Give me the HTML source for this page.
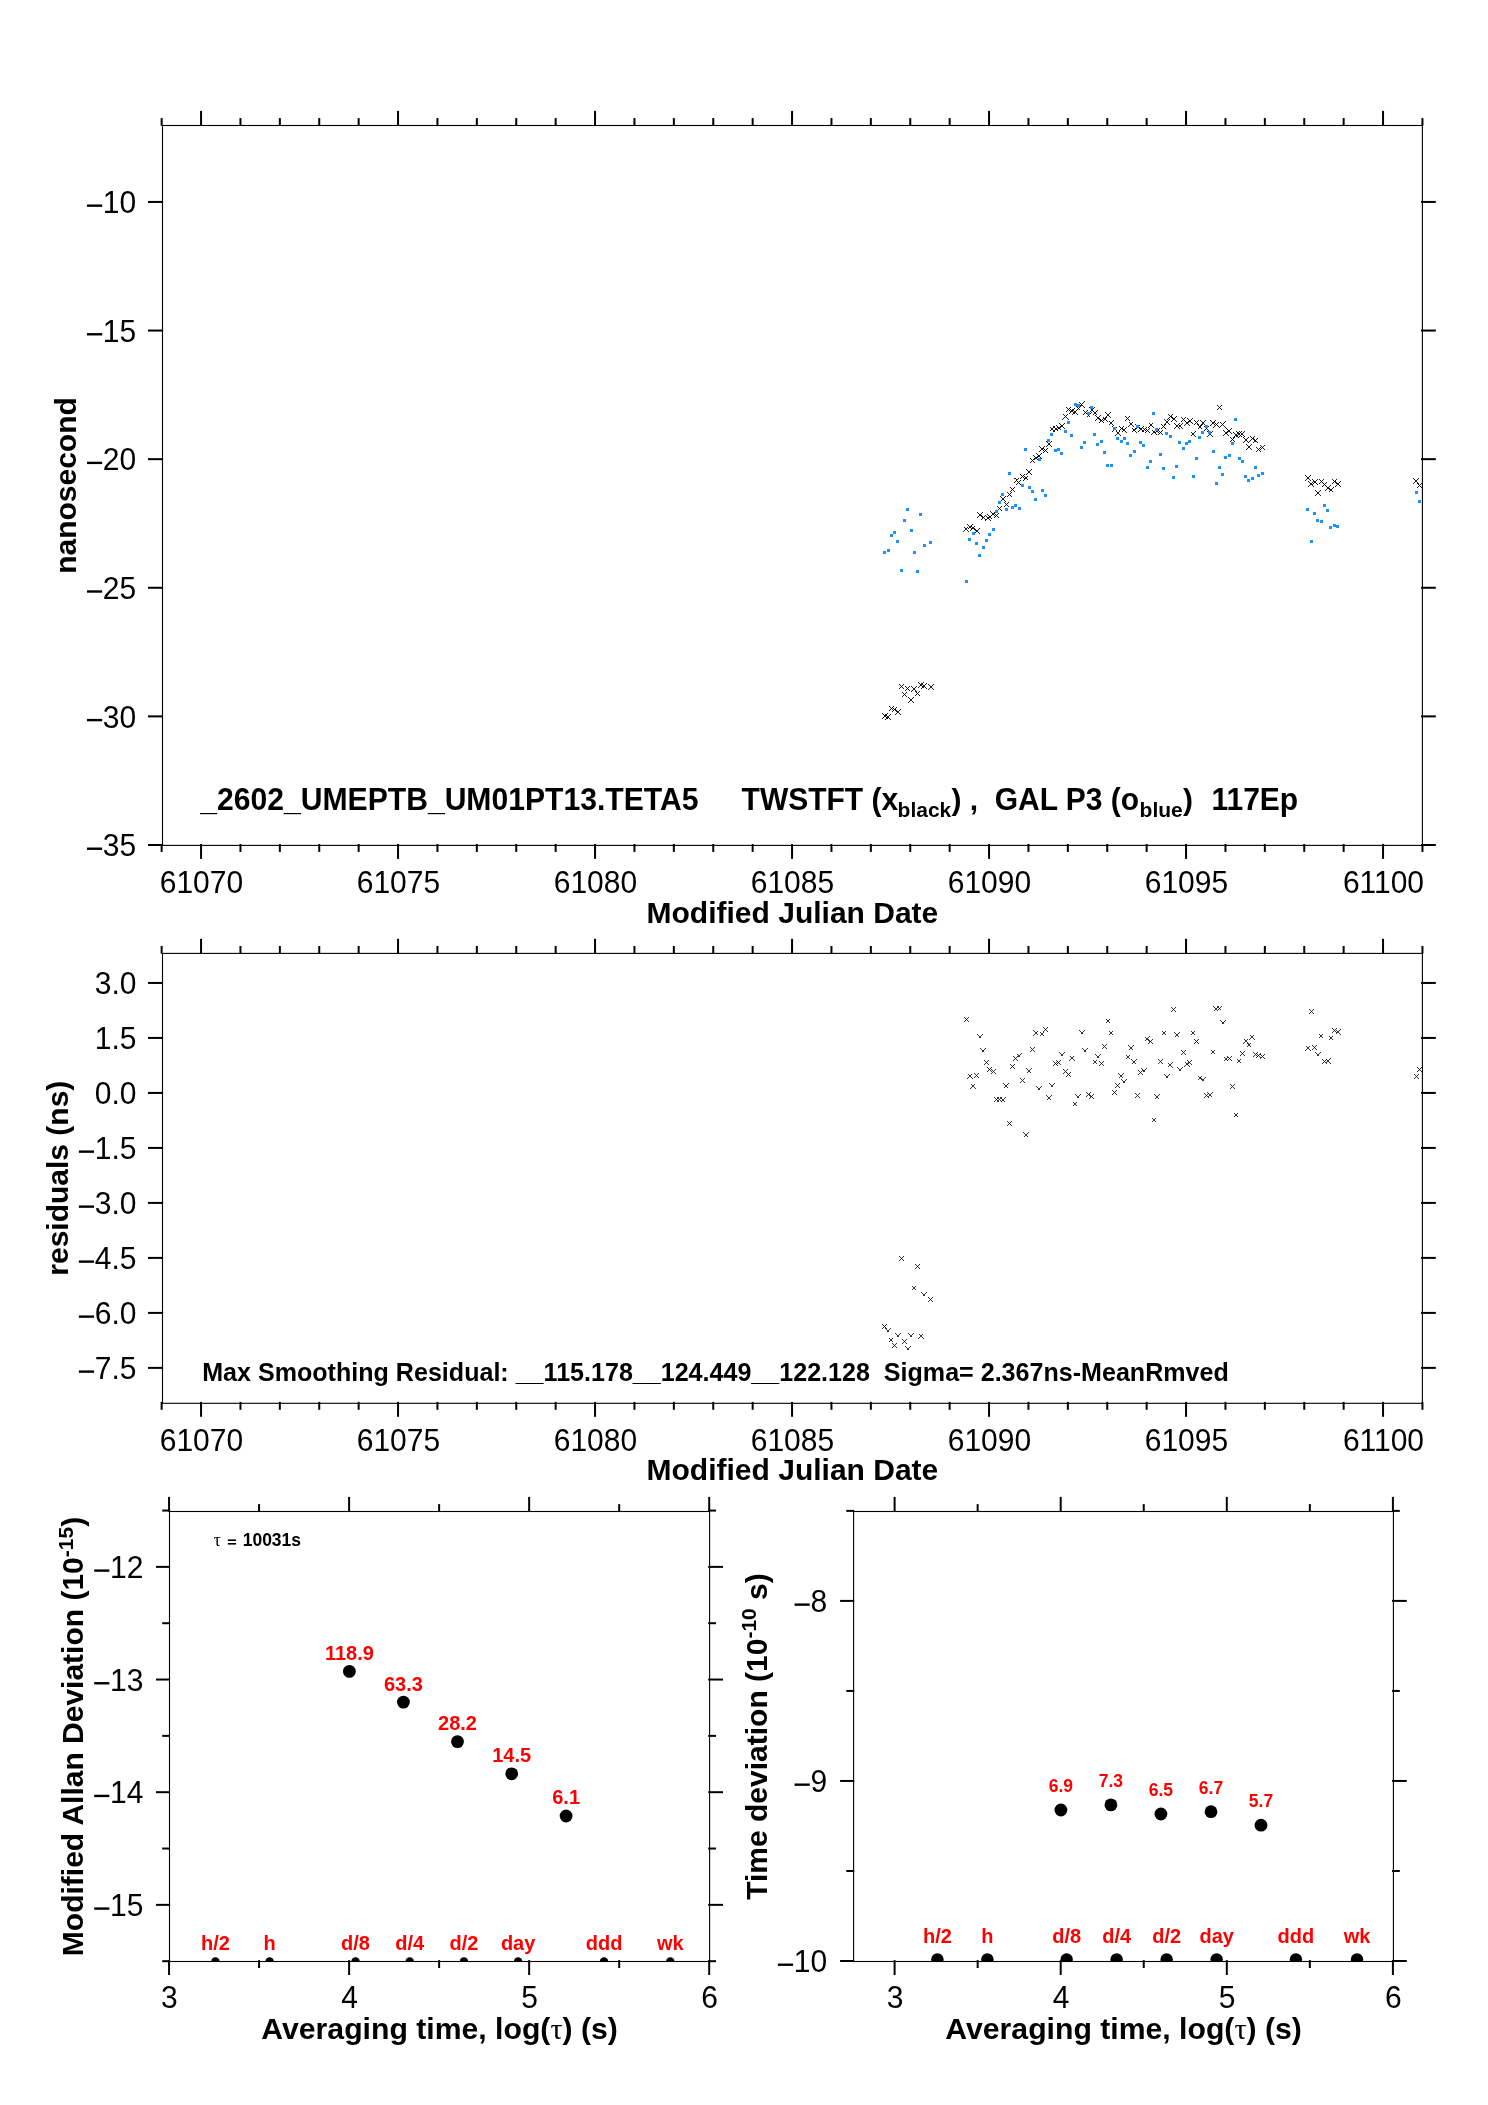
<!DOCTYPE html>
<html><head><meta charset="utf-8"><title>chart</title>
<style>html,body{margin:0;padding:0;background:#fff}svg{display:block;will-change:transform}text{font-family:"Liberation Sans",sans-serif}</style>
</head><body>
<svg width="1488" height="2105" viewBox="0 0 1488 2105" font-family="'Liberation Sans', sans-serif">
<rect width="1488" height="2105" fill="#fff"/>
<rect x="162.50" y="125.50" width="1259.90" height="719.90" fill="none" stroke="#000" stroke-width="1.1"/>
<line x1="201.05" y1="125.80" x2="201.05" y2="110.90" stroke="#000" stroke-width="2.0" stroke-linecap="butt"/>
<line x1="201.05" y1="844.00" x2="201.05" y2="858.90" stroke="#000" stroke-width="2.0" stroke-linecap="butt"/>
<line x1="398.05" y1="125.80" x2="398.05" y2="110.90" stroke="#000" stroke-width="2.0" stroke-linecap="butt"/>
<line x1="398.05" y1="844.00" x2="398.05" y2="858.90" stroke="#000" stroke-width="2.0" stroke-linecap="butt"/>
<line x1="595.05" y1="125.80" x2="595.05" y2="110.90" stroke="#000" stroke-width="2.0" stroke-linecap="butt"/>
<line x1="595.05" y1="844.00" x2="595.05" y2="858.90" stroke="#000" stroke-width="2.0" stroke-linecap="butt"/>
<line x1="792.05" y1="125.80" x2="792.05" y2="110.90" stroke="#000" stroke-width="2.0" stroke-linecap="butt"/>
<line x1="792.05" y1="844.00" x2="792.05" y2="858.90" stroke="#000" stroke-width="2.0" stroke-linecap="butt"/>
<line x1="989.05" y1="125.80" x2="989.05" y2="110.90" stroke="#000" stroke-width="2.0" stroke-linecap="butt"/>
<line x1="989.05" y1="844.00" x2="989.05" y2="858.90" stroke="#000" stroke-width="2.0" stroke-linecap="butt"/>
<line x1="1186.05" y1="125.80" x2="1186.05" y2="110.90" stroke="#000" stroke-width="2.0" stroke-linecap="butt"/>
<line x1="1186.05" y1="844.00" x2="1186.05" y2="858.90" stroke="#000" stroke-width="2.0" stroke-linecap="butt"/>
<line x1="1383.05" y1="125.80" x2="1383.05" y2="110.90" stroke="#000" stroke-width="2.0" stroke-linecap="butt"/>
<line x1="1383.05" y1="844.00" x2="1383.05" y2="858.90" stroke="#000" stroke-width="2.0" stroke-linecap="butt"/>
<line x1="161.65" y1="125.80" x2="161.65" y2="118.10" stroke="#000" stroke-width="2.0" stroke-linecap="butt"/>
<line x1="161.65" y1="844.00" x2="161.65" y2="851.90" stroke="#000" stroke-width="2.0" stroke-linecap="butt"/>
<line x1="240.45" y1="125.80" x2="240.45" y2="118.10" stroke="#000" stroke-width="2.0" stroke-linecap="butt"/>
<line x1="240.45" y1="844.00" x2="240.45" y2="851.90" stroke="#000" stroke-width="2.0" stroke-linecap="butt"/>
<line x1="279.85" y1="125.80" x2="279.85" y2="118.10" stroke="#000" stroke-width="2.0" stroke-linecap="butt"/>
<line x1="279.85" y1="844.00" x2="279.85" y2="851.90" stroke="#000" stroke-width="2.0" stroke-linecap="butt"/>
<line x1="319.25" y1="125.80" x2="319.25" y2="118.10" stroke="#000" stroke-width="2.0" stroke-linecap="butt"/>
<line x1="319.25" y1="844.00" x2="319.25" y2="851.90" stroke="#000" stroke-width="2.0" stroke-linecap="butt"/>
<line x1="358.65" y1="125.80" x2="358.65" y2="118.10" stroke="#000" stroke-width="2.0" stroke-linecap="butt"/>
<line x1="358.65" y1="844.00" x2="358.65" y2="851.90" stroke="#000" stroke-width="2.0" stroke-linecap="butt"/>
<line x1="437.45" y1="125.80" x2="437.45" y2="118.10" stroke="#000" stroke-width="2.0" stroke-linecap="butt"/>
<line x1="437.45" y1="844.00" x2="437.45" y2="851.90" stroke="#000" stroke-width="2.0" stroke-linecap="butt"/>
<line x1="476.85" y1="125.80" x2="476.85" y2="118.10" stroke="#000" stroke-width="2.0" stroke-linecap="butt"/>
<line x1="476.85" y1="844.00" x2="476.85" y2="851.90" stroke="#000" stroke-width="2.0" stroke-linecap="butt"/>
<line x1="516.25" y1="125.80" x2="516.25" y2="118.10" stroke="#000" stroke-width="2.0" stroke-linecap="butt"/>
<line x1="516.25" y1="844.00" x2="516.25" y2="851.90" stroke="#000" stroke-width="2.0" stroke-linecap="butt"/>
<line x1="555.65" y1="125.80" x2="555.65" y2="118.10" stroke="#000" stroke-width="2.0" stroke-linecap="butt"/>
<line x1="555.65" y1="844.00" x2="555.65" y2="851.90" stroke="#000" stroke-width="2.0" stroke-linecap="butt"/>
<line x1="634.45" y1="125.80" x2="634.45" y2="118.10" stroke="#000" stroke-width="2.0" stroke-linecap="butt"/>
<line x1="634.45" y1="844.00" x2="634.45" y2="851.90" stroke="#000" stroke-width="2.0" stroke-linecap="butt"/>
<line x1="673.85" y1="125.80" x2="673.85" y2="118.10" stroke="#000" stroke-width="2.0" stroke-linecap="butt"/>
<line x1="673.85" y1="844.00" x2="673.85" y2="851.90" stroke="#000" stroke-width="2.0" stroke-linecap="butt"/>
<line x1="713.25" y1="125.80" x2="713.25" y2="118.10" stroke="#000" stroke-width="2.0" stroke-linecap="butt"/>
<line x1="713.25" y1="844.00" x2="713.25" y2="851.90" stroke="#000" stroke-width="2.0" stroke-linecap="butt"/>
<line x1="752.65" y1="125.80" x2="752.65" y2="118.10" stroke="#000" stroke-width="2.0" stroke-linecap="butt"/>
<line x1="752.65" y1="844.00" x2="752.65" y2="851.90" stroke="#000" stroke-width="2.0" stroke-linecap="butt"/>
<line x1="831.45" y1="125.80" x2="831.45" y2="118.10" stroke="#000" stroke-width="2.0" stroke-linecap="butt"/>
<line x1="831.45" y1="844.00" x2="831.45" y2="851.90" stroke="#000" stroke-width="2.0" stroke-linecap="butt"/>
<line x1="870.85" y1="125.80" x2="870.85" y2="118.10" stroke="#000" stroke-width="2.0" stroke-linecap="butt"/>
<line x1="870.85" y1="844.00" x2="870.85" y2="851.90" stroke="#000" stroke-width="2.0" stroke-linecap="butt"/>
<line x1="910.25" y1="125.80" x2="910.25" y2="118.10" stroke="#000" stroke-width="2.0" stroke-linecap="butt"/>
<line x1="910.25" y1="844.00" x2="910.25" y2="851.90" stroke="#000" stroke-width="2.0" stroke-linecap="butt"/>
<line x1="949.65" y1="125.80" x2="949.65" y2="118.10" stroke="#000" stroke-width="2.0" stroke-linecap="butt"/>
<line x1="949.65" y1="844.00" x2="949.65" y2="851.90" stroke="#000" stroke-width="2.0" stroke-linecap="butt"/>
<line x1="1028.45" y1="125.80" x2="1028.45" y2="118.10" stroke="#000" stroke-width="2.0" stroke-linecap="butt"/>
<line x1="1028.45" y1="844.00" x2="1028.45" y2="851.90" stroke="#000" stroke-width="2.0" stroke-linecap="butt"/>
<line x1="1067.85" y1="125.80" x2="1067.85" y2="118.10" stroke="#000" stroke-width="2.0" stroke-linecap="butt"/>
<line x1="1067.85" y1="844.00" x2="1067.85" y2="851.90" stroke="#000" stroke-width="2.0" stroke-linecap="butt"/>
<line x1="1107.25" y1="125.80" x2="1107.25" y2="118.10" stroke="#000" stroke-width="2.0" stroke-linecap="butt"/>
<line x1="1107.25" y1="844.00" x2="1107.25" y2="851.90" stroke="#000" stroke-width="2.0" stroke-linecap="butt"/>
<line x1="1146.65" y1="125.80" x2="1146.65" y2="118.10" stroke="#000" stroke-width="2.0" stroke-linecap="butt"/>
<line x1="1146.65" y1="844.00" x2="1146.65" y2="851.90" stroke="#000" stroke-width="2.0" stroke-linecap="butt"/>
<line x1="1225.45" y1="125.80" x2="1225.45" y2="118.10" stroke="#000" stroke-width="2.0" stroke-linecap="butt"/>
<line x1="1225.45" y1="844.00" x2="1225.45" y2="851.90" stroke="#000" stroke-width="2.0" stroke-linecap="butt"/>
<line x1="1264.85" y1="125.80" x2="1264.85" y2="118.10" stroke="#000" stroke-width="2.0" stroke-linecap="butt"/>
<line x1="1264.85" y1="844.00" x2="1264.85" y2="851.90" stroke="#000" stroke-width="2.0" stroke-linecap="butt"/>
<line x1="1304.25" y1="125.80" x2="1304.25" y2="118.10" stroke="#000" stroke-width="2.0" stroke-linecap="butt"/>
<line x1="1304.25" y1="844.00" x2="1304.25" y2="851.90" stroke="#000" stroke-width="2.0" stroke-linecap="butt"/>
<line x1="1343.65" y1="125.80" x2="1343.65" y2="118.10" stroke="#000" stroke-width="2.0" stroke-linecap="butt"/>
<line x1="1343.65" y1="844.00" x2="1343.65" y2="851.90" stroke="#000" stroke-width="2.0" stroke-linecap="butt"/>
<line x1="1422.45" y1="125.80" x2="1422.45" y2="118.10" stroke="#000" stroke-width="2.0" stroke-linecap="butt"/>
<line x1="1422.45" y1="844.00" x2="1422.45" y2="851.90" stroke="#000" stroke-width="2.0" stroke-linecap="butt"/>
<text transform="translate(201.45,892.70) scale(1,1.03)" font-size="30" font-weight="normal" text-anchor="middle" fill="#000" >61070</text>
<text transform="translate(398.45,892.70) scale(1,1.03)" font-size="30" font-weight="normal" text-anchor="middle" fill="#000" >61075</text>
<text transform="translate(595.45,892.70) scale(1,1.03)" font-size="30" font-weight="normal" text-anchor="middle" fill="#000" >61080</text>
<text transform="translate(792.45,892.70) scale(1,1.03)" font-size="30" font-weight="normal" text-anchor="middle" fill="#000" >61085</text>
<text transform="translate(989.45,892.70) scale(1,1.03)" font-size="30" font-weight="normal" text-anchor="middle" fill="#000" >61090</text>
<text transform="translate(1186.45,892.70) scale(1,1.03)" font-size="30" font-weight="normal" text-anchor="middle" fill="#000" >61095</text>
<text transform="translate(1383.45,892.70) scale(1,1.03)" font-size="30" font-weight="normal" text-anchor="middle" fill="#000" >61100</text>
<line x1="163.10" y1="201.94" x2="148.00" y2="201.94" stroke="#000" stroke-width="2.0" stroke-linecap="butt"/>
<line x1="1421.00" y1="201.94" x2="1435.80" y2="201.94" stroke="#000" stroke-width="2.0" stroke-linecap="butt"/>
<line x1="163.10" y1="330.55" x2="148.00" y2="330.55" stroke="#000" stroke-width="2.0" stroke-linecap="butt"/>
<line x1="1421.00" y1="330.55" x2="1435.80" y2="330.55" stroke="#000" stroke-width="2.0" stroke-linecap="butt"/>
<line x1="163.10" y1="459.16" x2="148.00" y2="459.16" stroke="#000" stroke-width="2.0" stroke-linecap="butt"/>
<line x1="1421.00" y1="459.16" x2="1435.80" y2="459.16" stroke="#000" stroke-width="2.0" stroke-linecap="butt"/>
<line x1="163.10" y1="587.77" x2="148.00" y2="587.77" stroke="#000" stroke-width="2.0" stroke-linecap="butt"/>
<line x1="1421.00" y1="587.77" x2="1435.80" y2="587.77" stroke="#000" stroke-width="2.0" stroke-linecap="butt"/>
<line x1="163.10" y1="716.38" x2="148.00" y2="716.38" stroke="#000" stroke-width="2.0" stroke-linecap="butt"/>
<line x1="1421.00" y1="716.38" x2="1435.80" y2="716.38" stroke="#000" stroke-width="2.0" stroke-linecap="butt"/>
<line x1="163.10" y1="844.99" x2="148.00" y2="844.99" stroke="#000" stroke-width="2.0" stroke-linecap="butt"/>
<line x1="1421.00" y1="844.99" x2="1435.80" y2="844.99" stroke="#000" stroke-width="2.0" stroke-linecap="butt"/>
<text transform="translate(136.20,213.14) scale(1,1.03)" font-size="30" font-weight="normal" text-anchor="end" fill="#000" >10</text>
<rect x="86.99" y="204.47" width="15.18" height="2.39" fill="#000"/>
<text transform="translate(136.20,341.75) scale(1,1.03)" font-size="30" font-weight="normal" text-anchor="end" fill="#000" >15</text>
<rect x="86.99" y="333.08" width="15.18" height="2.39" fill="#000"/>
<text transform="translate(136.20,470.36) scale(1,1.03)" font-size="30" font-weight="normal" text-anchor="end" fill="#000" >20</text>
<rect x="86.99" y="461.69" width="15.18" height="2.39" fill="#000"/>
<text transform="translate(136.20,598.97) scale(1,1.03)" font-size="30" font-weight="normal" text-anchor="end" fill="#000" >25</text>
<rect x="86.99" y="590.30" width="15.18" height="2.39" fill="#000"/>
<text transform="translate(136.20,727.58) scale(1,1.03)" font-size="30" font-weight="normal" text-anchor="end" fill="#000" >30</text>
<rect x="86.99" y="718.91" width="15.18" height="2.39" fill="#000"/>
<text transform="translate(136.20,856.19) scale(1,1.03)" font-size="30" font-weight="normal" text-anchor="end" fill="#000" >35</text>
<rect x="86.99" y="847.52" width="15.18" height="2.39" fill="#000"/>
<text transform="translate(792.40,922.50) scale(1,1.0)" font-size="30" font-weight="bold" text-anchor="middle" fill="#000" >Modified Julian Date</text>
<text transform="translate(76.0,485.5) rotate(-90)" font-size="30" font-weight="bold" text-anchor="middle">nanosecond</text>
<text transform="translate(200.30,809.50) scale(1,1.03)" font-size="30.12" font-weight="bold" text-anchor="start" fill="#000" >_2602_UMEPTB_UM01PT13.TETA5</text>
<text transform="translate(741.60,809.50) scale(1,1.03)" font-size="30" font-weight="bold" text-anchor="start" fill="#000" >TWSTFT (x</text>
<text transform="translate(897.60,816.70) scale(1,1.0)" font-size="21" font-weight="bold" text-anchor="start" fill="#000" >black</text>
<text transform="translate(951.40,809.50) scale(1,1.0)" font-size="30" font-weight="bold" text-anchor="start" fill="#000" >) ,</text>
<text transform="translate(994.70,809.50) scale(1,1.03)" font-size="30" font-weight="bold" text-anchor="start" fill="#000" >GAL P3 (o</text>
<text transform="translate(1139.60,816.70) scale(1,1.0)" font-size="21" font-weight="bold" text-anchor="start" fill="#000" >blue</text>
<text transform="translate(1183.00,809.50) scale(1,1.0)" font-size="30" font-weight="bold" text-anchor="start" fill="#000" >)</text>
<text transform="translate(1211.50,809.50) scale(1,1.03)" font-size="30" font-weight="bold" text-anchor="start" fill="#000" >117Ep</text>
<g shape-rendering="crispEdges">
<path d="M882.20 713.10L887.60 718.50M882.20 718.50L887.60 713.10" stroke="#000" stroke-width="0.9" fill="none"/>
<path d="M885.30 714.40L890.70 719.80M885.30 719.80L890.70 714.40" stroke="#000" stroke-width="0.9" fill="none"/>
<path d="M888.80 705.70L894.20 711.10M888.80 711.10L894.20 705.70" stroke="#000" stroke-width="0.9" fill="none"/>
<path d="M891.80 706.90L897.20 712.30M891.80 712.30L897.20 706.90" stroke="#000" stroke-width="0.9" fill="none"/>
<path d="M895.20 709.20L900.60 714.60M895.20 714.60L900.60 709.20" stroke="#000" stroke-width="0.9" fill="none"/>
<path d="M898.80 683.70L904.20 689.10M898.80 689.10L904.20 683.70" stroke="#000" stroke-width="0.9" fill="none"/>
<path d="M901.70 691.80L907.10 697.20M901.70 697.20L907.10 691.80" stroke="#000" stroke-width="0.9" fill="none"/>
<path d="M904.70 685.80L910.10 691.20M904.70 691.20L910.10 685.80" stroke="#000" stroke-width="0.9" fill="none"/>
<path d="M908.30 697.30L913.70 702.70M908.30 702.70L913.70 697.30" stroke="#000" stroke-width="0.9" fill="none"/>
<path d="M911.30 686.20L916.70 691.60M911.30 691.60L916.70 686.20" stroke="#000" stroke-width="0.9" fill="none"/>
<path d="M914.70 690.80L920.10 696.20M914.70 696.20L920.10 690.80" stroke="#000" stroke-width="0.9" fill="none"/>
<path d="M918.20 682.20L923.60 687.60M918.20 687.60L923.60 682.20" stroke="#000" stroke-width="0.9" fill="none"/>
<path d="M921.30 683.40L926.70 688.80M921.30 688.80L926.70 683.40" stroke="#000" stroke-width="0.9" fill="none"/>
<path d="M928.30 684.20L933.70 689.60M928.30 689.60L933.70 684.20" stroke="#000" stroke-width="0.9" fill="none"/>
<path d="M963.40 526.60L968.80 532.00M963.40 532.00L968.80 526.60" stroke="#000" stroke-width="0.9" fill="none"/>
<path d="M967.30 524.00L972.70 529.40M967.30 529.40L972.70 524.00" stroke="#000" stroke-width="0.9" fill="none"/>
<path d="M970.40 525.70L975.80 531.10M970.40 531.10L975.80 525.70" stroke="#000" stroke-width="0.9" fill="none"/>
<path d="M974.30 528.40L979.70 533.80M974.30 533.80L979.70 528.40" stroke="#000" stroke-width="0.9" fill="none"/>
<path d="M977.20 512.20L982.60 517.60M977.20 517.60L982.60 512.20" stroke="#000" stroke-width="0.9" fill="none"/>
<path d="M980.90 514.80L986.30 520.20M980.90 520.20L986.30 514.80" stroke="#000" stroke-width="0.9" fill="none"/>
<path d="M985.20 515.70L990.60 521.10M985.20 521.10L990.60 515.70" stroke="#000" stroke-width="0.9" fill="none"/>
<path d="M987.30 514.00L992.70 519.40M987.30 519.40L992.70 514.00" stroke="#000" stroke-width="0.9" fill="none"/>
<path d="M990.30 511.30L995.70 516.70M990.30 516.70L995.70 511.30" stroke="#000" stroke-width="0.9" fill="none"/>
<path d="M993.70 512.60L999.10 518.00M993.70 518.00L999.10 512.60" stroke="#000" stroke-width="0.9" fill="none"/>
<path d="M996.90 505.60L1002.30 511.00M996.90 511.00L1002.30 505.60" stroke="#000" stroke-width="0.9" fill="none"/>
<path d="M1000.30 496.20L1005.70 501.60M1000.30 501.60L1005.70 496.20" stroke="#000" stroke-width="0.9" fill="none"/>
<path d="M1003.80 501.80L1009.20 507.20M1003.80 507.20L1009.20 501.80" stroke="#000" stroke-width="0.9" fill="none"/>
<path d="M1006.80 491.80L1012.20 497.20M1006.80 497.20L1012.20 491.80" stroke="#000" stroke-width="0.9" fill="none"/>
<path d="M1009.80 486.80L1015.20 492.20M1009.80 492.20L1015.20 486.80" stroke="#000" stroke-width="0.9" fill="none"/>
<path d="M1013.50 478.00L1018.90 483.40M1013.50 483.40L1018.90 478.00" stroke="#000" stroke-width="0.9" fill="none"/>
<path d="M1015.90 479.60L1021.30 485.00M1015.90 485.00L1021.30 479.60" stroke="#000" stroke-width="0.9" fill="none"/>
<path d="M1019.90 473.70L1025.30 479.10M1019.90 479.10L1025.30 473.70" stroke="#000" stroke-width="0.9" fill="none"/>
<path d="M1022.90 475.30L1028.30 480.70M1022.90 480.70L1028.30 475.30" stroke="#000" stroke-width="0.9" fill="none"/>
<path d="M1026.40 469.30L1031.80 474.70M1026.40 474.70L1031.80 469.30" stroke="#000" stroke-width="0.9" fill="none"/>
<path d="M1029.80 457.90L1035.20 463.30M1029.80 463.30L1035.20 457.90" stroke="#000" stroke-width="0.9" fill="none"/>
<path d="M1033.00 454.50L1038.40 459.90M1033.00 459.90L1038.40 454.50" stroke="#000" stroke-width="0.9" fill="none"/>
<path d="M1036.20 453.40L1041.60 458.80M1036.20 458.80L1041.60 453.40" stroke="#000" stroke-width="0.9" fill="none"/>
<path d="M1039.40 446.50L1044.80 451.90M1039.40 451.90L1044.80 446.50" stroke="#000" stroke-width="0.9" fill="none"/>
<path d="M1042.90 447.80L1048.30 453.20M1042.90 453.20L1048.30 447.80" stroke="#000" stroke-width="0.9" fill="none"/>
<path d="M1046.40 441.30L1051.80 446.70M1046.40 446.70L1051.80 441.30" stroke="#000" stroke-width="0.9" fill="none"/>
<path d="M1049.67 426.30L1055.07 431.70M1049.67 431.70L1055.07 426.30" stroke="#000" stroke-width="0.9" fill="none"/>
<path d="M1052.96 426.30L1058.36 431.70M1052.96 431.70L1058.36 426.30" stroke="#000" stroke-width="0.9" fill="none"/>
<path d="M1056.25 425.00L1061.65 430.40M1056.25 430.40L1061.65 425.00" stroke="#000" stroke-width="0.9" fill="none"/>
<path d="M1059.48 423.20L1064.88 428.60M1059.48 428.60L1064.88 423.20" stroke="#000" stroke-width="0.9" fill="none"/>
<path d="M1062.77 414.20L1068.17 419.60M1062.77 419.60L1068.17 414.20" stroke="#000" stroke-width="0.9" fill="none"/>
<path d="M1066.06 406.80L1071.46 412.20M1066.06 412.20L1071.46 406.80" stroke="#000" stroke-width="0.9" fill="none"/>
<path d="M1069.36 408.20L1074.76 413.60M1069.36 413.60L1074.76 408.20" stroke="#000" stroke-width="0.9" fill="none"/>
<path d="M1072.65 409.20L1078.05 414.60M1072.65 414.60L1078.05 409.20" stroke="#000" stroke-width="0.9" fill="none"/>
<path d="M1075.88 404.50L1081.28 409.90M1075.88 409.90L1081.28 404.50" stroke="#000" stroke-width="0.9" fill="none"/>
<path d="M1079.17 401.80L1084.57 407.20M1079.17 407.20L1084.57 401.80" stroke="#000" stroke-width="0.9" fill="none"/>
<path d="M1082.46 409.90L1087.86 415.30M1082.46 415.30L1087.86 409.90" stroke="#000" stroke-width="0.9" fill="none"/>
<path d="M1085.75 411.50L1091.15 416.90M1085.75 416.90L1091.15 411.50" stroke="#000" stroke-width="0.9" fill="none"/>
<path d="M1089.05 406.50L1094.45 411.90M1089.05 411.90L1094.45 406.50" stroke="#000" stroke-width="0.9" fill="none"/>
<path d="M1092.27 409.50L1097.67 414.90M1092.27 414.90L1097.67 409.50" stroke="#000" stroke-width="0.9" fill="none"/>
<path d="M1095.57 415.20L1100.97 420.60M1095.57 420.60L1100.97 415.20" stroke="#000" stroke-width="0.9" fill="none"/>
<path d="M1098.86 417.60L1104.26 423.00M1098.86 423.00L1104.26 417.60" stroke="#000" stroke-width="0.9" fill="none"/>
<path d="M1102.15 416.60L1107.55 422.00M1102.15 422.00L1107.55 416.60" stroke="#000" stroke-width="0.9" fill="none"/>
<path d="M1105.38 412.20L1110.78 417.60M1105.38 417.60L1110.78 412.20" stroke="#000" stroke-width="0.9" fill="none"/>
<path d="M1108.67 420.30L1114.07 425.70M1108.67 425.70L1114.07 420.30" stroke="#000" stroke-width="0.9" fill="none"/>
<path d="M1111.96 426.30L1117.36 431.70M1111.96 431.70L1117.36 426.30" stroke="#000" stroke-width="0.9" fill="none"/>
<path d="M1115.26 430.70L1120.66 436.10M1115.26 436.10L1120.66 430.70" stroke="#000" stroke-width="0.9" fill="none"/>
<path d="M1118.55 426.00L1123.95 431.40M1118.55 431.40L1123.95 426.00" stroke="#000" stroke-width="0.9" fill="none"/>
<path d="M1121.78 427.30L1127.18 432.70M1121.78 432.70L1127.18 427.30" stroke="#000" stroke-width="0.9" fill="none"/>
<path d="M1125.07 415.60L1130.47 421.00M1125.07 421.00L1130.47 415.60" stroke="#000" stroke-width="0.9" fill="none"/>
<path d="M1128.36 421.60L1133.76 427.00M1128.36 427.00L1133.76 421.60" stroke="#000" stroke-width="0.9" fill="none"/>
<path d="M1131.65 427.30L1137.05 432.70M1131.65 432.70L1137.05 427.30" stroke="#000" stroke-width="0.9" fill="none"/>
<path d="M1134.95 424.30L1140.35 429.70M1134.95 429.70L1140.35 424.30" stroke="#000" stroke-width="0.9" fill="none"/>
<path d="M1138.20 426.30L1143.60 431.70M1138.20 431.70L1143.60 426.30" stroke="#000" stroke-width="0.9" fill="none"/>
<path d="M1141.50 427.00L1146.90 432.40M1141.50 432.40L1146.90 427.00" stroke="#000" stroke-width="0.9" fill="none"/>
<path d="M1144.80 427.60L1150.20 433.00M1144.80 433.00L1150.20 427.60" stroke="#000" stroke-width="0.9" fill="none"/>
<path d="M1148.10 422.60L1153.50 428.00M1148.10 428.00L1153.50 422.60" stroke="#000" stroke-width="0.9" fill="none"/>
<path d="M1151.40 429.60L1156.80 435.00M1151.40 435.00L1156.80 429.60" stroke="#000" stroke-width="0.9" fill="none"/>
<path d="M1154.70 428.30L1160.10 433.70M1154.70 433.70L1160.10 428.30" stroke="#000" stroke-width="0.9" fill="none"/>
<path d="M1157.90 429.60L1163.30 435.00M1157.90 435.00L1163.30 429.60" stroke="#000" stroke-width="0.9" fill="none"/>
<path d="M1161.20 423.90L1166.60 429.30M1161.20 429.30L1166.60 423.90" stroke="#000" stroke-width="0.9" fill="none"/>
<path d="M1164.50 419.20L1169.90 424.60M1164.50 424.60L1169.90 419.20" stroke="#000" stroke-width="0.9" fill="none"/>
<path d="M1167.80 414.20L1173.20 419.60M1167.80 419.60L1173.20 414.20" stroke="#000" stroke-width="0.9" fill="none"/>
<path d="M1171.10 416.50L1176.50 421.90M1171.10 421.90L1176.50 416.50" stroke="#000" stroke-width="0.9" fill="none"/>
<path d="M1174.30 423.30L1179.70 428.70M1174.30 428.70L1179.70 423.30" stroke="#000" stroke-width="0.9" fill="none"/>
<path d="M1177.60 423.30L1183.00 428.70M1177.60 428.70L1183.00 423.30" stroke="#000" stroke-width="0.9" fill="none"/>
<path d="M1180.90 416.90L1186.30 422.30M1180.90 422.30L1186.30 416.90" stroke="#000" stroke-width="0.9" fill="none"/>
<path d="M1184.20 420.20L1189.60 425.60M1184.20 425.60L1189.60 420.20" stroke="#000" stroke-width="0.9" fill="none"/>
<path d="M1187.50 418.20L1192.90 423.60M1187.50 423.60L1192.90 418.20" stroke="#000" stroke-width="0.9" fill="none"/>
<path d="M1190.70 431.30L1196.10 436.70M1190.70 436.70L1196.10 431.30" stroke="#000" stroke-width="0.9" fill="none"/>
<path d="M1194.00 419.90L1199.40 425.30M1194.00 425.30L1199.40 419.90" stroke="#000" stroke-width="0.9" fill="none"/>
<path d="M1197.30 423.90L1202.70 429.30M1197.30 429.30L1202.70 423.90" stroke="#000" stroke-width="0.9" fill="none"/>
<path d="M1200.60 420.20L1206.00 425.60M1200.60 425.60L1206.00 420.20" stroke="#000" stroke-width="0.9" fill="none"/>
<path d="M1203.90 425.90L1209.30 431.30M1203.90 431.30L1209.30 425.90" stroke="#000" stroke-width="0.9" fill="none"/>
<path d="M1207.20 431.00L1212.60 436.40M1207.20 436.40L1212.60 431.00" stroke="#000" stroke-width="0.9" fill="none"/>
<path d="M1210.40 420.20L1215.80 425.60M1210.40 425.60L1215.80 420.20" stroke="#000" stroke-width="0.9" fill="none"/>
<path d="M1213.70 422.20L1219.10 427.60M1213.70 427.60L1219.10 422.20" stroke="#000" stroke-width="0.9" fill="none"/>
<path d="M1216.90 404.80L1222.30 410.20M1216.90 410.20L1222.30 404.80" stroke="#000" stroke-width="0.9" fill="none"/>
<path d="M1220.10 421.80L1225.50 427.20M1220.10 427.20L1225.50 421.80" stroke="#000" stroke-width="0.9" fill="none"/>
<path d="M1223.20 430.20L1228.60 435.60M1223.20 435.60L1228.60 430.20" stroke="#000" stroke-width="0.9" fill="none"/>
<path d="M1226.50 428.10L1231.90 433.50M1226.50 433.50L1231.90 428.10" stroke="#000" stroke-width="0.9" fill="none"/>
<path d="M1229.80 437.00L1235.20 442.40M1229.80 442.40L1235.20 437.00" stroke="#000" stroke-width="0.9" fill="none"/>
<path d="M1233.20 432.20L1238.60 437.60M1233.20 437.60L1238.60 432.20" stroke="#000" stroke-width="0.9" fill="none"/>
<path d="M1236.50 431.30L1241.90 436.70M1236.50 436.70L1241.90 431.30" stroke="#000" stroke-width="0.9" fill="none"/>
<path d="M1239.60 431.20L1245.00 436.60M1239.60 436.60L1245.00 431.20" stroke="#000" stroke-width="0.9" fill="none"/>
<path d="M1243.30 437.30L1248.70 442.70M1243.30 442.70L1248.70 437.30" stroke="#000" stroke-width="0.9" fill="none"/>
<path d="M1246.30 444.30L1251.70 449.70M1246.30 449.70L1251.70 444.30" stroke="#000" stroke-width="0.9" fill="none"/>
<path d="M1249.60 436.10L1255.00 441.50M1249.60 441.50L1255.00 436.10" stroke="#000" stroke-width="0.9" fill="none"/>
<path d="M1253.00 437.60L1258.40 443.00M1253.00 443.00L1258.40 437.60" stroke="#000" stroke-width="0.9" fill="none"/>
<path d="M1255.70 446.90L1261.10 452.30M1255.70 452.30L1261.10 446.90" stroke="#000" stroke-width="0.9" fill="none"/>
<path d="M1259.90 444.70L1265.30 450.10M1259.90 450.10L1265.30 444.70" stroke="#000" stroke-width="0.9" fill="none"/>
<path d="M1305.30 475.20L1310.70 480.60M1305.30 480.60L1310.70 475.20" stroke="#000" stroke-width="0.9" fill="none"/>
<path d="M1308.50 481.30L1313.90 486.70M1308.50 486.70L1313.90 481.30" stroke="#000" stroke-width="0.9" fill="none"/>
<path d="M1312.10 479.10L1317.50 484.50M1312.10 484.50L1317.50 479.10" stroke="#000" stroke-width="0.9" fill="none"/>
<path d="M1315.30 490.20L1320.70 495.60M1315.30 495.60L1320.70 490.20" stroke="#000" stroke-width="0.9" fill="none"/>
<path d="M1318.60 478.70L1324.00 484.10M1318.60 484.10L1324.00 478.70" stroke="#000" stroke-width="0.9" fill="none"/>
<path d="M1321.90 481.60L1327.30 487.00M1321.90 487.00L1327.30 481.60" stroke="#000" stroke-width="0.9" fill="none"/>
<path d="M1325.20 485.30L1330.60 490.70M1325.20 490.70L1330.60 485.30" stroke="#000" stroke-width="0.9" fill="none"/>
<path d="M1328.50 486.50L1333.90 491.90M1328.50 491.90L1333.90 486.50" stroke="#000" stroke-width="0.9" fill="none"/>
<path d="M1331.80 478.90L1337.20 484.30M1331.80 484.30L1337.20 478.90" stroke="#000" stroke-width="0.9" fill="none"/>
<path d="M1335.40 481.30L1340.80 486.70M1335.40 486.70L1340.80 481.30" stroke="#000" stroke-width="0.9" fill="none"/>
<path d="M1413.20 478.20L1418.60 483.60M1413.20 483.60L1418.60 478.20" stroke="#000" stroke-width="0.9" fill="none"/>
<path d="M1417.00 482.70L1422.40 488.10M1417.00 488.10L1422.40 482.70" stroke="#000" stroke-width="0.9" fill="none"/>
</g><g shape-rendering="crispEdges">
<rect x="906" y="508" width="3" height="3" fill="#1e90ff"/>
<rect x="919" y="513" width="3" height="3" fill="#1e90ff"/>
<rect x="903" y="519" width="3" height="3" fill="#1e90ff"/>
<rect x="910" y="529" width="3" height="3" fill="#1e90ff"/>
<rect x="893" y="531" width="3" height="3" fill="#1e90ff"/>
<rect x="890" y="534" width="3" height="3" fill="#1e90ff"/>
<rect x="896" y="540" width="3" height="3" fill="#1e90ff"/>
<rect x="929" y="541" width="3" height="3" fill="#1e90ff"/>
<rect x="923" y="544" width="3" height="3" fill="#1e90ff"/>
<rect x="887" y="549" width="3" height="3" fill="#1e90ff"/>
<rect x="883" y="551" width="3" height="3" fill="#1e90ff"/>
<rect x="913" y="551" width="3" height="3" fill="#1e90ff"/>
<rect x="900" y="569" width="3" height="3" fill="#1e90ff"/>
<rect x="916" y="570" width="3" height="3" fill="#1e90ff"/>
<rect x="965" y="580" width="3" height="3" fill="#1e90ff"/>
<rect x="978" y="554" width="3" height="3" fill="#1e90ff"/>
<rect x="982" y="546" width="3" height="3" fill="#1e90ff"/>
<rect x="975" y="542" width="3" height="3" fill="#1e90ff"/>
<rect x="968" y="538" width="3" height="3" fill="#1e90ff"/>
<rect x="985" y="539" width="3" height="3" fill="#1e90ff"/>
<rect x="972" y="532" width="3" height="3" fill="#1e90ff"/>
<rect x="988" y="533" width="3" height="3" fill="#1e90ff"/>
<rect x="992" y="528" width="3" height="3" fill="#1e90ff"/>
<rect x="995" y="510" width="3" height="3" fill="#1e90ff"/>
<rect x="998" y="501" width="3" height="3" fill="#1e90ff"/>
<rect x="1001" y="493" width="3" height="3" fill="#1e90ff"/>
<rect x="1005" y="508" width="3" height="3" fill="#1e90ff"/>
<rect x="1008" y="472" width="3" height="3" fill="#1e90ff"/>
<rect x="1011" y="506" width="3" height="3" fill="#1e90ff"/>
<rect x="1014" y="504" width="3" height="3" fill="#1e90ff"/>
<rect x="1018" y="507" width="3" height="3" fill="#1e90ff"/>
<rect x="1021" y="484" width="3" height="3" fill="#1e90ff"/>
<rect x="1024" y="448" width="3" height="3" fill="#1e90ff"/>
<rect x="1028" y="486" width="3" height="3" fill="#1e90ff"/>
<rect x="1031" y="490" width="3" height="3" fill="#1e90ff"/>
<rect x="1034" y="498" width="3" height="3" fill="#1e90ff"/>
<rect x="1038" y="458" width="3" height="3" fill="#1e90ff"/>
<rect x="1041" y="489" width="3" height="3" fill="#1e90ff"/>
<rect x="1044" y="494" width="3" height="3" fill="#1e90ff"/>
<rect x="1047" y="439" width="3" height="3" fill="#1e90ff"/>
<rect x="1050" y="433" width="3" height="3" fill="#1e90ff"/>
<rect x="1054" y="449" width="3" height="3" fill="#1e90ff"/>
<rect x="1057" y="448" width="3" height="3" fill="#1e90ff"/>
<rect x="1060" y="452" width="3" height="3" fill="#1e90ff"/>
<rect x="1064" y="430" width="3" height="3" fill="#1e90ff"/>
<rect x="1067" y="421" width="3" height="3" fill="#1e90ff"/>
<rect x="1070" y="434" width="3" height="3" fill="#1e90ff"/>
<rect x="1074" y="403" width="3" height="3" fill="#1e90ff"/>
<rect x="1077" y="404" width="3" height="3" fill="#1e90ff"/>
<rect x="1080" y="446" width="3" height="3" fill="#1e90ff"/>
<rect x="1083" y="441" width="3" height="3" fill="#1e90ff"/>
<rect x="1087" y="412" width="3" height="3" fill="#1e90ff"/>
<rect x="1090" y="406" width="3" height="3" fill="#1e90ff"/>
<rect x="1093" y="433" width="3" height="3" fill="#1e90ff"/>
<rect x="1096" y="443" width="3" height="3" fill="#1e90ff"/>
<rect x="1100" y="440" width="3" height="3" fill="#1e90ff"/>
<rect x="1103" y="451" width="3" height="3" fill="#1e90ff"/>
<rect x="1106" y="464" width="3" height="3" fill="#1e90ff"/>
<rect x="1110" y="464" width="3" height="3" fill="#1e90ff"/>
<rect x="1113" y="427" width="3" height="3" fill="#1e90ff"/>
<rect x="1116" y="437" width="3" height="3" fill="#1e90ff"/>
<rect x="1120" y="440" width="3" height="3" fill="#1e90ff"/>
<rect x="1123" y="437" width="3" height="3" fill="#1e90ff"/>
<rect x="1126" y="442" width="3" height="3" fill="#1e90ff"/>
<rect x="1129" y="454" width="3" height="3" fill="#1e90ff"/>
<rect x="1133" y="450" width="3" height="3" fill="#1e90ff"/>
<rect x="1136" y="425" width="3" height="3" fill="#1e90ff"/>
<rect x="1139" y="441" width="3" height="3" fill="#1e90ff"/>
<rect x="1142" y="444" width="3" height="3" fill="#1e90ff"/>
<rect x="1146" y="466" width="3" height="3" fill="#1e90ff"/>
<rect x="1149" y="460" width="3" height="3" fill="#1e90ff"/>
<rect x="1152" y="412" width="3" height="3" fill="#1e90ff"/>
<rect x="1155" y="428" width="3" height="3" fill="#1e90ff"/>
<rect x="1159" y="453" width="3" height="3" fill="#1e90ff"/>
<rect x="1162" y="467" width="3" height="3" fill="#1e90ff"/>
<rect x="1165" y="432" width="3" height="3" fill="#1e90ff"/>
<rect x="1169" y="435" width="3" height="3" fill="#1e90ff"/>
<rect x="1172" y="476" width="3" height="3" fill="#1e90ff"/>
<rect x="1175" y="465" width="3" height="3" fill="#1e90ff"/>
<rect x="1178" y="441" width="3" height="3" fill="#1e90ff"/>
<rect x="1182" y="447" width="3" height="3" fill="#1e90ff"/>
<rect x="1185" y="442" width="3" height="3" fill="#1e90ff"/>
<rect x="1188" y="440" width="3" height="3" fill="#1e90ff"/>
<rect x="1192" y="475" width="3" height="3" fill="#1e90ff"/>
<rect x="1195" y="457" width="3" height="3" fill="#1e90ff"/>
<rect x="1198" y="436" width="3" height="3" fill="#1e90ff"/>
<rect x="1201" y="431" width="3" height="3" fill="#1e90ff"/>
<rect x="1205" y="425" width="3" height="3" fill="#1e90ff"/>
<rect x="1208" y="431" width="3" height="3" fill="#1e90ff"/>
<rect x="1212" y="450" width="3" height="3" fill="#1e90ff"/>
<rect x="1215" y="482" width="3" height="3" fill="#1e90ff"/>
<rect x="1218" y="466" width="3" height="3" fill="#1e90ff"/>
<rect x="1221" y="473" width="3" height="3" fill="#1e90ff"/>
<rect x="1224" y="456" width="3" height="3" fill="#1e90ff"/>
<rect x="1228" y="454" width="3" height="3" fill="#1e90ff"/>
<rect x="1231" y="442" width="3" height="3" fill="#1e90ff"/>
<rect x="1234" y="418" width="3" height="3" fill="#1e90ff"/>
<rect x="1238" y="457" width="3" height="3" fill="#1e90ff"/>
<rect x="1241" y="460" width="3" height="3" fill="#1e90ff"/>
<rect x="1244" y="475" width="3" height="3" fill="#1e90ff"/>
<rect x="1247" y="479" width="3" height="3" fill="#1e90ff"/>
<rect x="1251" y="477" width="3" height="3" fill="#1e90ff"/>
<rect x="1254" y="466" width="3" height="3" fill="#1e90ff"/>
<rect x="1257" y="474" width="3" height="3" fill="#1e90ff"/>
<rect x="1261" y="472" width="3" height="3" fill="#1e90ff"/>
<rect x="1306" y="508" width="3" height="3" fill="#1e90ff"/>
<rect x="1310" y="540" width="3" height="3" fill="#1e90ff"/>
<rect x="1313" y="512" width="3" height="3" fill="#1e90ff"/>
<rect x="1316" y="519" width="3" height="3" fill="#1e90ff"/>
<rect x="1320" y="520" width="3" height="3" fill="#1e90ff"/>
<rect x="1323" y="504" width="3" height="3" fill="#1e90ff"/>
<rect x="1326" y="509" width="3" height="3" fill="#1e90ff"/>
<rect x="1329" y="526" width="3" height="3" fill="#1e90ff"/>
<rect x="1333" y="524" width="3" height="3" fill="#1e90ff"/>
<rect x="1336" y="525" width="3" height="3" fill="#1e90ff"/>
<rect x="1415" y="491" width="3" height="3" fill="#1e90ff"/>
<rect x="1418" y="500" width="3" height="3" fill="#1e90ff"/>
</g>
<rect x="162.50" y="953.40" width="1259.90" height="449.90" fill="none" stroke="#000" stroke-width="1.1"/>
<line x1="201.05" y1="953.70" x2="201.05" y2="938.80" stroke="#000" stroke-width="2.0" stroke-linecap="butt"/>
<line x1="201.05" y1="1401.90" x2="201.05" y2="1416.80" stroke="#000" stroke-width="2.0" stroke-linecap="butt"/>
<line x1="398.05" y1="953.70" x2="398.05" y2="938.80" stroke="#000" stroke-width="2.0" stroke-linecap="butt"/>
<line x1="398.05" y1="1401.90" x2="398.05" y2="1416.80" stroke="#000" stroke-width="2.0" stroke-linecap="butt"/>
<line x1="595.05" y1="953.70" x2="595.05" y2="938.80" stroke="#000" stroke-width="2.0" stroke-linecap="butt"/>
<line x1="595.05" y1="1401.90" x2="595.05" y2="1416.80" stroke="#000" stroke-width="2.0" stroke-linecap="butt"/>
<line x1="792.05" y1="953.70" x2="792.05" y2="938.80" stroke="#000" stroke-width="2.0" stroke-linecap="butt"/>
<line x1="792.05" y1="1401.90" x2="792.05" y2="1416.80" stroke="#000" stroke-width="2.0" stroke-linecap="butt"/>
<line x1="989.05" y1="953.70" x2="989.05" y2="938.80" stroke="#000" stroke-width="2.0" stroke-linecap="butt"/>
<line x1="989.05" y1="1401.90" x2="989.05" y2="1416.80" stroke="#000" stroke-width="2.0" stroke-linecap="butt"/>
<line x1="1186.05" y1="953.70" x2="1186.05" y2="938.80" stroke="#000" stroke-width="2.0" stroke-linecap="butt"/>
<line x1="1186.05" y1="1401.90" x2="1186.05" y2="1416.80" stroke="#000" stroke-width="2.0" stroke-linecap="butt"/>
<line x1="1383.05" y1="953.70" x2="1383.05" y2="938.80" stroke="#000" stroke-width="2.0" stroke-linecap="butt"/>
<line x1="1383.05" y1="1401.90" x2="1383.05" y2="1416.80" stroke="#000" stroke-width="2.0" stroke-linecap="butt"/>
<line x1="161.65" y1="953.70" x2="161.65" y2="946.00" stroke="#000" stroke-width="2.0" stroke-linecap="butt"/>
<line x1="161.65" y1="1401.90" x2="161.65" y2="1409.80" stroke="#000" stroke-width="2.0" stroke-linecap="butt"/>
<line x1="240.45" y1="953.70" x2="240.45" y2="946.00" stroke="#000" stroke-width="2.0" stroke-linecap="butt"/>
<line x1="240.45" y1="1401.90" x2="240.45" y2="1409.80" stroke="#000" stroke-width="2.0" stroke-linecap="butt"/>
<line x1="279.85" y1="953.70" x2="279.85" y2="946.00" stroke="#000" stroke-width="2.0" stroke-linecap="butt"/>
<line x1="279.85" y1="1401.90" x2="279.85" y2="1409.80" stroke="#000" stroke-width="2.0" stroke-linecap="butt"/>
<line x1="319.25" y1="953.70" x2="319.25" y2="946.00" stroke="#000" stroke-width="2.0" stroke-linecap="butt"/>
<line x1="319.25" y1="1401.90" x2="319.25" y2="1409.80" stroke="#000" stroke-width="2.0" stroke-linecap="butt"/>
<line x1="358.65" y1="953.70" x2="358.65" y2="946.00" stroke="#000" stroke-width="2.0" stroke-linecap="butt"/>
<line x1="358.65" y1="1401.90" x2="358.65" y2="1409.80" stroke="#000" stroke-width="2.0" stroke-linecap="butt"/>
<line x1="437.45" y1="953.70" x2="437.45" y2="946.00" stroke="#000" stroke-width="2.0" stroke-linecap="butt"/>
<line x1="437.45" y1="1401.90" x2="437.45" y2="1409.80" stroke="#000" stroke-width="2.0" stroke-linecap="butt"/>
<line x1="476.85" y1="953.70" x2="476.85" y2="946.00" stroke="#000" stroke-width="2.0" stroke-linecap="butt"/>
<line x1="476.85" y1="1401.90" x2="476.85" y2="1409.80" stroke="#000" stroke-width="2.0" stroke-linecap="butt"/>
<line x1="516.25" y1="953.70" x2="516.25" y2="946.00" stroke="#000" stroke-width="2.0" stroke-linecap="butt"/>
<line x1="516.25" y1="1401.90" x2="516.25" y2="1409.80" stroke="#000" stroke-width="2.0" stroke-linecap="butt"/>
<line x1="555.65" y1="953.70" x2="555.65" y2="946.00" stroke="#000" stroke-width="2.0" stroke-linecap="butt"/>
<line x1="555.65" y1="1401.90" x2="555.65" y2="1409.80" stroke="#000" stroke-width="2.0" stroke-linecap="butt"/>
<line x1="634.45" y1="953.70" x2="634.45" y2="946.00" stroke="#000" stroke-width="2.0" stroke-linecap="butt"/>
<line x1="634.45" y1="1401.90" x2="634.45" y2="1409.80" stroke="#000" stroke-width="2.0" stroke-linecap="butt"/>
<line x1="673.85" y1="953.70" x2="673.85" y2="946.00" stroke="#000" stroke-width="2.0" stroke-linecap="butt"/>
<line x1="673.85" y1="1401.90" x2="673.85" y2="1409.80" stroke="#000" stroke-width="2.0" stroke-linecap="butt"/>
<line x1="713.25" y1="953.70" x2="713.25" y2="946.00" stroke="#000" stroke-width="2.0" stroke-linecap="butt"/>
<line x1="713.25" y1="1401.90" x2="713.25" y2="1409.80" stroke="#000" stroke-width="2.0" stroke-linecap="butt"/>
<line x1="752.65" y1="953.70" x2="752.65" y2="946.00" stroke="#000" stroke-width="2.0" stroke-linecap="butt"/>
<line x1="752.65" y1="1401.90" x2="752.65" y2="1409.80" stroke="#000" stroke-width="2.0" stroke-linecap="butt"/>
<line x1="831.45" y1="953.70" x2="831.45" y2="946.00" stroke="#000" stroke-width="2.0" stroke-linecap="butt"/>
<line x1="831.45" y1="1401.90" x2="831.45" y2="1409.80" stroke="#000" stroke-width="2.0" stroke-linecap="butt"/>
<line x1="870.85" y1="953.70" x2="870.85" y2="946.00" stroke="#000" stroke-width="2.0" stroke-linecap="butt"/>
<line x1="870.85" y1="1401.90" x2="870.85" y2="1409.80" stroke="#000" stroke-width="2.0" stroke-linecap="butt"/>
<line x1="910.25" y1="953.70" x2="910.25" y2="946.00" stroke="#000" stroke-width="2.0" stroke-linecap="butt"/>
<line x1="910.25" y1="1401.90" x2="910.25" y2="1409.80" stroke="#000" stroke-width="2.0" stroke-linecap="butt"/>
<line x1="949.65" y1="953.70" x2="949.65" y2="946.00" stroke="#000" stroke-width="2.0" stroke-linecap="butt"/>
<line x1="949.65" y1="1401.90" x2="949.65" y2="1409.80" stroke="#000" stroke-width="2.0" stroke-linecap="butt"/>
<line x1="1028.45" y1="953.70" x2="1028.45" y2="946.00" stroke="#000" stroke-width="2.0" stroke-linecap="butt"/>
<line x1="1028.45" y1="1401.90" x2="1028.45" y2="1409.80" stroke="#000" stroke-width="2.0" stroke-linecap="butt"/>
<line x1="1067.85" y1="953.70" x2="1067.85" y2="946.00" stroke="#000" stroke-width="2.0" stroke-linecap="butt"/>
<line x1="1067.85" y1="1401.90" x2="1067.85" y2="1409.80" stroke="#000" stroke-width="2.0" stroke-linecap="butt"/>
<line x1="1107.25" y1="953.70" x2="1107.25" y2="946.00" stroke="#000" stroke-width="2.0" stroke-linecap="butt"/>
<line x1="1107.25" y1="1401.90" x2="1107.25" y2="1409.80" stroke="#000" stroke-width="2.0" stroke-linecap="butt"/>
<line x1="1146.65" y1="953.70" x2="1146.65" y2="946.00" stroke="#000" stroke-width="2.0" stroke-linecap="butt"/>
<line x1="1146.65" y1="1401.90" x2="1146.65" y2="1409.80" stroke="#000" stroke-width="2.0" stroke-linecap="butt"/>
<line x1="1225.45" y1="953.70" x2="1225.45" y2="946.00" stroke="#000" stroke-width="2.0" stroke-linecap="butt"/>
<line x1="1225.45" y1="1401.90" x2="1225.45" y2="1409.80" stroke="#000" stroke-width="2.0" stroke-linecap="butt"/>
<line x1="1264.85" y1="953.70" x2="1264.85" y2="946.00" stroke="#000" stroke-width="2.0" stroke-linecap="butt"/>
<line x1="1264.85" y1="1401.90" x2="1264.85" y2="1409.80" stroke="#000" stroke-width="2.0" stroke-linecap="butt"/>
<line x1="1304.25" y1="953.70" x2="1304.25" y2="946.00" stroke="#000" stroke-width="2.0" stroke-linecap="butt"/>
<line x1="1304.25" y1="1401.90" x2="1304.25" y2="1409.80" stroke="#000" stroke-width="2.0" stroke-linecap="butt"/>
<line x1="1343.65" y1="953.70" x2="1343.65" y2="946.00" stroke="#000" stroke-width="2.0" stroke-linecap="butt"/>
<line x1="1343.65" y1="1401.90" x2="1343.65" y2="1409.80" stroke="#000" stroke-width="2.0" stroke-linecap="butt"/>
<line x1="1422.45" y1="953.70" x2="1422.45" y2="946.00" stroke="#000" stroke-width="2.0" stroke-linecap="butt"/>
<line x1="1422.45" y1="1401.90" x2="1422.45" y2="1409.80" stroke="#000" stroke-width="2.0" stroke-linecap="butt"/>
<text transform="translate(201.45,1450.60) scale(1,1.03)" font-size="30" font-weight="normal" text-anchor="middle" fill="#000" >61070</text>
<text transform="translate(398.45,1450.60) scale(1,1.03)" font-size="30" font-weight="normal" text-anchor="middle" fill="#000" >61075</text>
<text transform="translate(595.45,1450.60) scale(1,1.03)" font-size="30" font-weight="normal" text-anchor="middle" fill="#000" >61080</text>
<text transform="translate(792.45,1450.60) scale(1,1.03)" font-size="30" font-weight="normal" text-anchor="middle" fill="#000" >61085</text>
<text transform="translate(989.45,1450.60) scale(1,1.03)" font-size="30" font-weight="normal" text-anchor="middle" fill="#000" >61090</text>
<text transform="translate(1186.45,1450.60) scale(1,1.03)" font-size="30" font-weight="normal" text-anchor="middle" fill="#000" >61095</text>
<text transform="translate(1383.45,1450.60) scale(1,1.03)" font-size="30" font-weight="normal" text-anchor="middle" fill="#000" >61100</text>
<line x1="163.10" y1="982.95" x2="148.00" y2="982.95" stroke="#000" stroke-width="2.0" stroke-linecap="butt"/>
<line x1="1421.00" y1="982.95" x2="1435.80" y2="982.95" stroke="#000" stroke-width="2.0" stroke-linecap="butt"/>
<line x1="163.10" y1="1037.94" x2="148.00" y2="1037.94" stroke="#000" stroke-width="2.0" stroke-linecap="butt"/>
<line x1="1421.00" y1="1037.94" x2="1435.80" y2="1037.94" stroke="#000" stroke-width="2.0" stroke-linecap="butt"/>
<line x1="163.10" y1="1092.93" x2="148.00" y2="1092.93" stroke="#000" stroke-width="2.0" stroke-linecap="butt"/>
<line x1="1421.00" y1="1092.93" x2="1435.80" y2="1092.93" stroke="#000" stroke-width="2.0" stroke-linecap="butt"/>
<line x1="163.10" y1="1147.92" x2="148.00" y2="1147.92" stroke="#000" stroke-width="2.0" stroke-linecap="butt"/>
<line x1="1421.00" y1="1147.92" x2="1435.80" y2="1147.92" stroke="#000" stroke-width="2.0" stroke-linecap="butt"/>
<line x1="163.10" y1="1202.91" x2="148.00" y2="1202.91" stroke="#000" stroke-width="2.0" stroke-linecap="butt"/>
<line x1="1421.00" y1="1202.91" x2="1435.80" y2="1202.91" stroke="#000" stroke-width="2.0" stroke-linecap="butt"/>
<line x1="163.10" y1="1257.90" x2="148.00" y2="1257.90" stroke="#000" stroke-width="2.0" stroke-linecap="butt"/>
<line x1="1421.00" y1="1257.90" x2="1435.80" y2="1257.90" stroke="#000" stroke-width="2.0" stroke-linecap="butt"/>
<line x1="163.10" y1="1312.90" x2="148.00" y2="1312.90" stroke="#000" stroke-width="2.0" stroke-linecap="butt"/>
<line x1="1421.00" y1="1312.90" x2="1435.80" y2="1312.90" stroke="#000" stroke-width="2.0" stroke-linecap="butt"/>
<line x1="163.10" y1="1367.89" x2="148.00" y2="1367.89" stroke="#000" stroke-width="2.0" stroke-linecap="butt"/>
<line x1="1421.00" y1="1367.89" x2="1435.80" y2="1367.89" stroke="#000" stroke-width="2.0" stroke-linecap="butt"/>
<text transform="translate(136.40,994.15) scale(1,1.03)" font-size="30" font-weight="normal" text-anchor="end" fill="#000" >3.0</text>
<text transform="translate(136.40,1049.14) scale(1,1.03)" font-size="30" font-weight="normal" text-anchor="end" fill="#000" >1.5</text>
<text transform="translate(136.40,1104.13) scale(1,1.03)" font-size="30" font-weight="normal" text-anchor="end" fill="#000" >0.0</text>
<text transform="translate(136.40,1159.12) scale(1,1.03)" font-size="30" font-weight="normal" text-anchor="end" fill="#000" >1.5</text>
<rect x="78.85" y="1150.45" width="15.18" height="2.39" fill="#000"/>
<text transform="translate(136.40,1214.11) scale(1,1.03)" font-size="30" font-weight="normal" text-anchor="end" fill="#000" >3.0</text>
<rect x="78.85" y="1205.44" width="15.18" height="2.39" fill="#000"/>
<text transform="translate(136.40,1269.10) scale(1,1.03)" font-size="30" font-weight="normal" text-anchor="end" fill="#000" >4.5</text>
<rect x="78.85" y="1260.43" width="15.18" height="2.39" fill="#000"/>
<text transform="translate(136.40,1324.10) scale(1,1.03)" font-size="30" font-weight="normal" text-anchor="end" fill="#000" >6.0</text>
<rect x="78.85" y="1315.43" width="15.18" height="2.39" fill="#000"/>
<text transform="translate(136.40,1379.09) scale(1,1.03)" font-size="30" font-weight="normal" text-anchor="end" fill="#000" >7.5</text>
<rect x="78.85" y="1370.42" width="15.18" height="2.39" fill="#000"/>
<text transform="translate(792.40,1480.40) scale(1,1.0)" font-size="30" font-weight="bold" text-anchor="middle" fill="#000" >Modified Julian Date</text>
<text transform="translate(68.0,1178.2) rotate(-90)" font-size="30" font-weight="bold" text-anchor="middle">residuals (ns)</text>
<text transform="translate(202.20,1380.70) scale(1,1.02)" font-size="25.08" font-weight="bold" text-anchor="start" fill="#000" xml:space="preserve">Max Smoothing Residual: __115.178__124.449__122.128  Sigma= 2.367ns-MeanRmved</text>
<g shape-rendering="crispEdges">
<path d="M882.10 1324.10L886.90 1328.90M882.10 1328.90L886.90 1324.10" stroke="#000" stroke-width="0.8" fill="none"/>
<path d="M885.50 1327.50L890.30 1332.30M885.50 1332.30L890.30 1327.50" stroke="#000" stroke-width="0.8" fill="none"/>
<path d="M888.60 1337.60L893.40 1342.40M888.60 1342.40L893.40 1337.60" stroke="#000" stroke-width="0.8" fill="none"/>
<path d="M892.00 1342.80L896.80 1347.60M892.00 1347.60L896.80 1342.80" stroke="#000" stroke-width="0.8" fill="none"/>
<path d="M895.40 1332.50L900.20 1337.30M895.40 1337.30L900.20 1332.50" stroke="#000" stroke-width="0.8" fill="none"/>
<path d="M899.10 1256.00L903.90 1260.80M899.10 1260.80L903.90 1256.00" stroke="#000" stroke-width="0.8" fill="none"/>
<path d="M902.10 1339.10L906.90 1343.90M902.10 1343.90L906.90 1339.10" stroke="#000" stroke-width="0.8" fill="none"/>
<path d="M905.50 1345.50L910.30 1350.30M905.50 1350.30L910.30 1345.50" stroke="#000" stroke-width="0.8" fill="none"/>
<path d="M908.60 1332.50L913.40 1337.30M908.60 1337.30L913.40 1332.50" stroke="#000" stroke-width="0.8" fill="none"/>
<path d="M911.60 1285.60L916.40 1290.40M911.60 1290.40L916.40 1285.60" stroke="#000" stroke-width="0.8" fill="none"/>
<path d="M915.00 1264.10L919.80 1268.90M915.00 1268.90L919.80 1264.10" stroke="#000" stroke-width="0.8" fill="none"/>
<path d="M918.20 1333.70L923.00 1338.50M918.20 1338.50L923.00 1333.70" stroke="#000" stroke-width="0.8" fill="none"/>
<path d="M921.60 1291.50L926.40 1296.30M921.60 1296.30L926.40 1291.50" stroke="#000" stroke-width="0.8" fill="none"/>
<path d="M928.10 1297.10L932.90 1301.90M928.10 1301.90L932.90 1297.10" stroke="#000" stroke-width="0.8" fill="none"/>
<path d="M964.00 1017.00L968.80 1021.80M964.00 1021.80L968.80 1017.00" stroke="#000" stroke-width="0.8" fill="none"/>
<path d="M967.50 1073.70L972.30 1078.50M967.50 1078.50L972.30 1073.70" stroke="#000" stroke-width="0.8" fill="none"/>
<path d="M970.90 1083.70L975.70 1088.50M970.90 1088.50L975.70 1083.70" stroke="#000" stroke-width="0.8" fill="none"/>
<path d="M974.10 1073.00L978.90 1077.80M974.10 1077.80L978.90 1073.00" stroke="#000" stroke-width="0.8" fill="none"/>
<path d="M977.50 1033.50L982.30 1038.30M977.50 1038.30L982.30 1033.50" stroke="#000" stroke-width="0.8" fill="none"/>
<path d="M980.50 1047.50L985.30 1052.30M980.50 1052.30L985.30 1047.50" stroke="#000" stroke-width="0.8" fill="none"/>
<path d="M984.10 1060.10L988.90 1064.90M984.10 1064.90L988.90 1060.10" stroke="#000" stroke-width="0.8" fill="none"/>
<path d="M987.40 1067.10L992.20 1071.90M987.40 1071.90L992.20 1067.10" stroke="#000" stroke-width="0.8" fill="none"/>
<path d="M990.70 1069.10L995.50 1073.90M990.70 1073.90L995.50 1069.10" stroke="#000" stroke-width="0.8" fill="none"/>
<path d="M993.90 1097.40L998.70 1102.20M993.90 1102.20L998.70 1097.40" stroke="#000" stroke-width="0.8" fill="none"/>
<path d="M997.20 1097.40L1002.00 1102.20M997.20 1102.20L1002.00 1097.40" stroke="#000" stroke-width="0.8" fill="none"/>
<path d="M1000.50 1097.40L1005.30 1102.20M1000.50 1102.20L1005.30 1097.40" stroke="#000" stroke-width="0.8" fill="none"/>
<path d="M1003.50 1083.40L1008.30 1088.20M1003.50 1088.20L1008.30 1083.40" stroke="#000" stroke-width="0.8" fill="none"/>
<path d="M1007.00 1121.00L1011.80 1125.80M1007.00 1125.80L1011.80 1121.00" stroke="#000" stroke-width="0.8" fill="none"/>
<path d="M1010.10 1063.90L1014.90 1068.70M1010.10 1068.70L1014.90 1063.90" stroke="#000" stroke-width="0.8" fill="none"/>
<path d="M1013.40 1056.30L1018.20 1061.10M1013.40 1061.10L1018.20 1056.30" stroke="#000" stroke-width="0.8" fill="none"/>
<path d="M1016.60 1052.50L1021.40 1057.30M1016.60 1057.30L1021.40 1052.50" stroke="#000" stroke-width="0.8" fill="none"/>
<path d="M1019.90 1078.00L1024.70 1082.80M1019.90 1082.80L1024.70 1078.00" stroke="#000" stroke-width="0.8" fill="none"/>
<path d="M1023.50 1132.40L1028.30 1137.20M1023.50 1137.20L1028.30 1132.40" stroke="#000" stroke-width="0.8" fill="none"/>
<path d="M1026.50 1068.40L1031.30 1073.20M1026.50 1073.20L1031.30 1068.40" stroke="#000" stroke-width="0.8" fill="none"/>
<path d="M1030.00 1047.00L1034.80 1051.80M1030.00 1051.80L1034.80 1047.00" stroke="#000" stroke-width="0.8" fill="none"/>
<path d="M1033.20 1030.60L1038.00 1035.40M1033.20 1035.40L1038.00 1030.60" stroke="#000" stroke-width="0.8" fill="none"/>
<path d="M1036.50 1085.50L1041.30 1090.30M1036.50 1090.30L1041.30 1085.50" stroke="#000" stroke-width="0.8" fill="none"/>
<path d="M1039.80 1031.60L1044.60 1036.40M1039.80 1036.40L1044.60 1031.60" stroke="#000" stroke-width="0.8" fill="none"/>
<path d="M1043.00 1027.10L1047.80 1031.90M1043.00 1031.90L1047.80 1027.10" stroke="#000" stroke-width="0.8" fill="none"/>
<path d="M1046.60 1095.30L1051.40 1100.10M1046.60 1100.10L1051.40 1095.30" stroke="#000" stroke-width="0.8" fill="none"/>
<path d="M1049.60 1082.50L1054.40 1087.30M1049.60 1087.30L1054.40 1082.50" stroke="#000" stroke-width="0.8" fill="none"/>
<path d="M1053.10 1061.10L1057.90 1065.90M1053.10 1065.90L1057.90 1061.10" stroke="#000" stroke-width="0.8" fill="none"/>
<path d="M1055.90 1060.30L1060.70 1065.10M1055.90 1065.10L1060.70 1060.30" stroke="#000" stroke-width="0.8" fill="none"/>
<path d="M1059.50 1051.50L1064.30 1056.30M1059.50 1056.30L1064.30 1051.50" stroke="#000" stroke-width="0.8" fill="none"/>
<path d="M1063.00 1069.10L1067.80 1073.90M1063.00 1073.90L1067.80 1069.10" stroke="#000" stroke-width="0.8" fill="none"/>
<path d="M1066.20 1072.00L1071.00 1076.80M1066.20 1076.80L1071.00 1072.00" stroke="#000" stroke-width="0.8" fill="none"/>
<path d="M1069.30 1055.70L1074.10 1060.50M1069.30 1060.50L1074.10 1055.70" stroke="#000" stroke-width="0.8" fill="none"/>
<path d="M1072.60 1101.60L1077.40 1106.40M1072.60 1106.40L1077.40 1101.60" stroke="#000" stroke-width="0.8" fill="none"/>
<path d="M1075.60 1093.50L1080.40 1098.30M1075.60 1098.30L1080.40 1093.50" stroke="#000" stroke-width="0.8" fill="none"/>
<path d="M1079.40 1029.50L1084.20 1034.30M1079.40 1034.30L1084.20 1029.50" stroke="#000" stroke-width="0.8" fill="none"/>
<path d="M1082.40 1047.50L1087.20 1052.30M1082.40 1052.30L1087.20 1047.50" stroke="#000" stroke-width="0.8" fill="none"/>
<path d="M1086.20 1091.80L1091.00 1096.60M1086.20 1096.60L1091.00 1091.80" stroke="#000" stroke-width="0.8" fill="none"/>
<path d="M1089.20 1093.80L1094.00 1098.60M1089.20 1098.60L1094.00 1093.80" stroke="#000" stroke-width="0.8" fill="none"/>
<path d="M1092.50 1059.60L1097.30 1064.40M1092.50 1064.40L1097.30 1059.60" stroke="#000" stroke-width="0.8" fill="none"/>
<path d="M1095.50 1053.50L1100.30 1058.30M1095.50 1058.30L1100.30 1053.50" stroke="#000" stroke-width="0.8" fill="none"/>
<path d="M1099.00 1061.00L1103.80 1065.80M1099.00 1065.80L1103.80 1061.00" stroke="#000" stroke-width="0.8" fill="none"/>
<path d="M1101.90 1043.90L1106.70 1048.70M1101.90 1048.70L1106.70 1043.90" stroke="#000" stroke-width="0.8" fill="none"/>
<path d="M1105.50 1018.60L1110.30 1023.40M1105.50 1023.40L1110.30 1018.60" stroke="#000" stroke-width="0.8" fill="none"/>
<path d="M1108.50 1030.60L1113.30 1035.40M1108.50 1035.40L1113.30 1030.60" stroke="#000" stroke-width="0.8" fill="none"/>
<path d="M1112.10 1090.10L1116.90 1094.90M1112.10 1094.90L1116.90 1090.10" stroke="#000" stroke-width="0.8" fill="none"/>
<path d="M1115.00 1083.00L1119.80 1087.80M1115.00 1087.80L1119.80 1083.00" stroke="#000" stroke-width="0.8" fill="none"/>
<path d="M1118.50 1073.40L1123.30 1078.20M1118.50 1078.20L1123.30 1073.40" stroke="#000" stroke-width="0.8" fill="none"/>
<path d="M1121.60 1078.50L1126.40 1083.30M1121.60 1083.30L1126.40 1078.50" stroke="#000" stroke-width="0.8" fill="none"/>
<path d="M1125.40 1054.60L1130.20 1059.40M1125.40 1059.40L1130.20 1054.60" stroke="#000" stroke-width="0.8" fill="none"/>
<path d="M1128.50 1045.30L1133.30 1050.10M1128.50 1050.10L1133.30 1045.30" stroke="#000" stroke-width="0.8" fill="none"/>
<path d="M1131.60 1059.40L1136.40 1064.20M1131.60 1064.20L1136.40 1059.40" stroke="#000" stroke-width="0.8" fill="none"/>
<path d="M1134.90 1093.10L1139.70 1097.90M1134.90 1097.90L1139.70 1093.10" stroke="#000" stroke-width="0.8" fill="none"/>
<path d="M1138.50 1070.20L1143.30 1075.00M1138.50 1075.00L1143.30 1070.20" stroke="#000" stroke-width="0.8" fill="none"/>
<path d="M1141.50 1067.50L1146.30 1072.30M1141.50 1072.30L1146.30 1067.50" stroke="#000" stroke-width="0.8" fill="none"/>
<path d="M1144.70 1036.50L1149.50 1041.30M1144.70 1041.30L1149.50 1036.50" stroke="#000" stroke-width="0.8" fill="none"/>
<path d="M1148.00 1039.00L1152.80 1043.80M1148.00 1043.80L1152.80 1039.00" stroke="#000" stroke-width="0.8" fill="none"/>
<path d="M1151.40 1117.60L1156.20 1122.40M1151.40 1122.40L1156.20 1117.60" stroke="#000" stroke-width="0.8" fill="none"/>
<path d="M1154.40 1094.40L1159.20 1099.20M1154.40 1099.20L1159.20 1094.40" stroke="#000" stroke-width="0.8" fill="none"/>
<path d="M1157.90 1059.10L1162.70 1063.90M1157.90 1063.90L1162.70 1059.10" stroke="#000" stroke-width="0.8" fill="none"/>
<path d="M1161.50 1030.60L1166.30 1035.40M1161.50 1035.40L1166.30 1030.60" stroke="#000" stroke-width="0.8" fill="none"/>
<path d="M1164.50 1073.50L1169.30 1078.30M1164.50 1078.30L1169.30 1073.50" stroke="#000" stroke-width="0.8" fill="none"/>
<path d="M1167.70 1062.40L1172.50 1067.20M1167.70 1067.20L1172.50 1062.40" stroke="#000" stroke-width="0.8" fill="none"/>
<path d="M1171.00 1007.00L1175.80 1011.80M1171.00 1011.80L1175.80 1007.00" stroke="#000" stroke-width="0.8" fill="none"/>
<path d="M1174.50 1032.40L1179.30 1037.20M1174.50 1037.20L1179.30 1032.40" stroke="#000" stroke-width="0.8" fill="none"/>
<path d="M1177.50 1066.50L1182.30 1071.30M1177.50 1071.30L1182.30 1066.50" stroke="#000" stroke-width="0.8" fill="none"/>
<path d="M1181.00 1050.10L1185.80 1054.90M1181.00 1054.90L1185.80 1050.10" stroke="#000" stroke-width="0.8" fill="none"/>
<path d="M1184.30 1061.70L1189.10 1066.50M1184.30 1066.50L1189.10 1061.70" stroke="#000" stroke-width="0.8" fill="none"/>
<path d="M1187.40 1060.30L1192.20 1065.10M1187.40 1065.10L1192.20 1060.30" stroke="#000" stroke-width="0.8" fill="none"/>
<path d="M1190.40 1030.60L1195.20 1035.40M1190.40 1035.40L1195.20 1030.60" stroke="#000" stroke-width="0.8" fill="none"/>
<path d="M1193.90 1039.00L1198.70 1043.80M1193.90 1043.80L1198.70 1039.00" stroke="#000" stroke-width="0.8" fill="none"/>
<path d="M1197.40 1075.60L1202.20 1080.40M1197.40 1080.40L1202.20 1075.60" stroke="#000" stroke-width="0.8" fill="none"/>
<path d="M1200.50 1076.50L1205.30 1081.30M1200.50 1081.30L1205.30 1076.50" stroke="#000" stroke-width="0.8" fill="none"/>
<path d="M1204.00 1093.10L1208.80 1097.90M1204.00 1097.90L1208.80 1093.10" stroke="#000" stroke-width="0.8" fill="none"/>
<path d="M1207.50 1092.40L1212.30 1097.20M1207.50 1097.20L1212.30 1092.40" stroke="#000" stroke-width="0.8" fill="none"/>
<path d="M1210.30 1049.60L1215.10 1054.40M1210.30 1054.40L1215.10 1049.60" stroke="#000" stroke-width="0.8" fill="none"/>
<path d="M1213.60 1006.20L1218.40 1011.00M1213.60 1011.00L1218.40 1006.20" stroke="#000" stroke-width="0.8" fill="none"/>
<path d="M1217.10 1005.50L1221.90 1010.30M1217.10 1010.30L1221.90 1005.50" stroke="#000" stroke-width="0.8" fill="none"/>
<path d="M1220.40 1019.50L1225.20 1024.30M1220.40 1024.30L1225.20 1019.50" stroke="#000" stroke-width="0.8" fill="none"/>
<path d="M1223.60 1056.60L1228.40 1061.40M1223.60 1061.40L1228.40 1056.60" stroke="#000" stroke-width="0.8" fill="none"/>
<path d="M1227.00 1055.90L1231.80 1060.70M1227.00 1060.70L1231.80 1055.90" stroke="#000" stroke-width="0.8" fill="none"/>
<path d="M1230.20 1084.50L1235.00 1089.30M1230.20 1089.30L1235.00 1084.50" stroke="#000" stroke-width="0.8" fill="none"/>
<path d="M1233.40 1112.60L1238.20 1117.40M1233.40 1117.40L1238.20 1112.60" stroke="#000" stroke-width="0.8" fill="none"/>
<path d="M1236.50 1058.60L1241.30 1063.40M1236.50 1063.40L1241.30 1058.60" stroke="#000" stroke-width="0.8" fill="none"/>
<path d="M1240.00 1051.20L1244.80 1056.00M1240.00 1056.00L1244.80 1051.20" stroke="#000" stroke-width="0.8" fill="none"/>
<path d="M1243.40 1038.70L1248.20 1043.50M1243.40 1043.50L1248.20 1038.70" stroke="#000" stroke-width="0.8" fill="none"/>
<path d="M1246.40 1042.60L1251.20 1047.40M1246.40 1047.40L1251.20 1042.60" stroke="#000" stroke-width="0.8" fill="none"/>
<path d="M1249.70 1034.70L1254.50 1039.50M1249.70 1039.50L1254.50 1034.70" stroke="#000" stroke-width="0.8" fill="none"/>
<path d="M1253.00 1052.10L1257.80 1056.90M1253.00 1056.90L1257.80 1052.10" stroke="#000" stroke-width="0.8" fill="none"/>
<path d="M1256.50 1053.10L1261.30 1057.90M1256.50 1057.90L1261.30 1053.10" stroke="#000" stroke-width="0.8" fill="none"/>
<path d="M1260.20 1054.00L1265.00 1058.80M1260.20 1058.80L1265.00 1054.00" stroke="#000" stroke-width="0.8" fill="none"/>
<path d="M1308.90 1009.10L1313.70 1013.90M1308.90 1013.90L1313.70 1009.10" stroke="#000" stroke-width="0.8" fill="none"/>
<path d="M1305.30 1045.70L1310.10 1050.50M1305.30 1050.50L1310.10 1045.70" stroke="#000" stroke-width="0.8" fill="none"/>
<path d="M1312.20 1045.30L1317.00 1050.10M1312.20 1050.10L1317.00 1045.30" stroke="#000" stroke-width="0.8" fill="none"/>
<path d="M1315.50 1051.50L1320.30 1056.30M1315.50 1056.30L1320.30 1051.50" stroke="#000" stroke-width="0.8" fill="none"/>
<path d="M1318.60 1033.60L1323.40 1038.40M1318.60 1038.40L1323.40 1033.60" stroke="#000" stroke-width="0.8" fill="none"/>
<path d="M1322.00 1058.90L1326.80 1063.70M1322.00 1063.70L1326.80 1058.90" stroke="#000" stroke-width="0.8" fill="none"/>
<path d="M1325.70 1058.50L1330.50 1063.30M1325.70 1063.30L1330.50 1058.50" stroke="#000" stroke-width="0.8" fill="none"/>
<path d="M1328.40 1035.60L1333.20 1040.40M1328.40 1040.40L1333.20 1035.60" stroke="#000" stroke-width="0.8" fill="none"/>
<path d="M1332.10 1027.80L1336.90 1032.60M1332.10 1032.60L1336.90 1027.80" stroke="#000" stroke-width="0.8" fill="none"/>
<path d="M1335.70 1029.60L1340.50 1034.40M1335.70 1034.40L1340.50 1029.60" stroke="#000" stroke-width="0.8" fill="none"/>
<path d="M1413.80 1074.30L1418.60 1079.10M1413.80 1079.10L1418.60 1074.30" stroke="#000" stroke-width="0.8" fill="none"/>
<path d="M1417.00 1066.90L1421.80 1071.70M1417.00 1071.70L1421.80 1066.90" stroke="#000" stroke-width="0.8" fill="none"/>
</g>
<rect x="169.50" y="1511.50" width="540.10" height="450.00" fill="none" stroke="#000" stroke-width="1.1"/>
<line x1="169.05" y1="1511.80" x2="169.05" y2="1496.90" stroke="#000" stroke-width="2.0" stroke-linecap="butt"/>
<line x1="169.05" y1="1960.10" x2="169.05" y2="1975.00" stroke="#000" stroke-width="2.0" stroke-linecap="butt"/>
<line x1="349.10" y1="1511.80" x2="349.10" y2="1496.90" stroke="#000" stroke-width="2.0" stroke-linecap="butt"/>
<line x1="349.10" y1="1960.10" x2="349.10" y2="1975.00" stroke="#000" stroke-width="2.0" stroke-linecap="butt"/>
<line x1="529.15" y1="1511.80" x2="529.15" y2="1496.90" stroke="#000" stroke-width="2.0" stroke-linecap="butt"/>
<line x1="529.15" y1="1960.10" x2="529.15" y2="1975.00" stroke="#000" stroke-width="2.0" stroke-linecap="butt"/>
<line x1="709.20" y1="1511.80" x2="709.20" y2="1496.90" stroke="#000" stroke-width="2.0" stroke-linecap="butt"/>
<line x1="709.20" y1="1960.10" x2="709.20" y2="1975.00" stroke="#000" stroke-width="2.0" stroke-linecap="butt"/>
<line x1="259.07" y1="1511.80" x2="259.07" y2="1504.10" stroke="#000" stroke-width="2.0" stroke-linecap="butt"/>
<line x1="259.07" y1="1960.10" x2="259.07" y2="1968.00" stroke="#000" stroke-width="2.0" stroke-linecap="butt"/>
<line x1="439.12" y1="1511.80" x2="439.12" y2="1504.10" stroke="#000" stroke-width="2.0" stroke-linecap="butt"/>
<line x1="439.12" y1="1960.10" x2="439.12" y2="1968.00" stroke="#000" stroke-width="2.0" stroke-linecap="butt"/>
<line x1="619.18" y1="1511.80" x2="619.18" y2="1504.10" stroke="#000" stroke-width="2.0" stroke-linecap="butt"/>
<line x1="619.18" y1="1960.10" x2="619.18" y2="1968.00" stroke="#000" stroke-width="2.0" stroke-linecap="butt"/>
<text transform="translate(169.45,2007.80) scale(1,1.03)" font-size="30" font-weight="normal" text-anchor="middle" fill="#000" >3</text>
<text transform="translate(349.50,2007.80) scale(1,1.03)" font-size="30" font-weight="normal" text-anchor="middle" fill="#000" >4</text>
<text transform="translate(529.55,2007.80) scale(1,1.03)" font-size="30" font-weight="normal" text-anchor="middle" fill="#000" >5</text>
<text transform="translate(709.60,2007.80) scale(1,1.03)" font-size="30" font-weight="normal" text-anchor="middle" fill="#000" >6</text>
<line x1="170.10" y1="1566.88" x2="156.00" y2="1566.88" stroke="#000" stroke-width="2.0" stroke-linecap="butt"/>
<line x1="708.20" y1="1566.88" x2="723.00" y2="1566.88" stroke="#000" stroke-width="2.0" stroke-linecap="butt"/>
<line x1="170.10" y1="1679.54" x2="156.00" y2="1679.54" stroke="#000" stroke-width="2.0" stroke-linecap="butt"/>
<line x1="708.20" y1="1679.54" x2="723.00" y2="1679.54" stroke="#000" stroke-width="2.0" stroke-linecap="butt"/>
<line x1="170.10" y1="1792.20" x2="156.00" y2="1792.20" stroke="#000" stroke-width="2.0" stroke-linecap="butt"/>
<line x1="708.20" y1="1792.20" x2="723.00" y2="1792.20" stroke="#000" stroke-width="2.0" stroke-linecap="butt"/>
<line x1="170.10" y1="1904.86" x2="156.00" y2="1904.86" stroke="#000" stroke-width="2.0" stroke-linecap="butt"/>
<line x1="708.20" y1="1904.86" x2="723.00" y2="1904.86" stroke="#000" stroke-width="2.0" stroke-linecap="butt"/>
<line x1="170.10" y1="1510.55" x2="162.20" y2="1510.55" stroke="#000" stroke-width="2.0" stroke-linecap="butt"/>
<line x1="708.20" y1="1510.55" x2="716.00" y2="1510.55" stroke="#000" stroke-width="2.0" stroke-linecap="butt"/>
<line x1="170.10" y1="1623.21" x2="162.20" y2="1623.21" stroke="#000" stroke-width="2.0" stroke-linecap="butt"/>
<line x1="708.20" y1="1623.21" x2="716.00" y2="1623.21" stroke="#000" stroke-width="2.0" stroke-linecap="butt"/>
<line x1="170.10" y1="1735.87" x2="162.20" y2="1735.87" stroke="#000" stroke-width="2.0" stroke-linecap="butt"/>
<line x1="708.20" y1="1735.87" x2="716.00" y2="1735.87" stroke="#000" stroke-width="2.0" stroke-linecap="butt"/>
<line x1="170.10" y1="1848.53" x2="162.20" y2="1848.53" stroke="#000" stroke-width="2.0" stroke-linecap="butt"/>
<line x1="708.20" y1="1848.53" x2="716.00" y2="1848.53" stroke="#000" stroke-width="2.0" stroke-linecap="butt"/>
<line x1="170.10" y1="1961.19" x2="162.20" y2="1961.19" stroke="#000" stroke-width="2.0" stroke-linecap="butt"/>
<line x1="708.20" y1="1961.19" x2="716.00" y2="1961.19" stroke="#000" stroke-width="2.0" stroke-linecap="butt"/>
<text transform="translate(143.40,1578.08) scale(1,1.03)" font-size="30" font-weight="normal" text-anchor="end" fill="#000" >12</text>
<rect x="94.19" y="1569.41" width="15.18" height="2.39" fill="#000"/>
<text transform="translate(143.40,1690.74) scale(1,1.03)" font-size="30" font-weight="normal" text-anchor="end" fill="#000" >13</text>
<rect x="94.19" y="1682.07" width="15.18" height="2.39" fill="#000"/>
<text transform="translate(143.40,1803.40) scale(1,1.03)" font-size="30" font-weight="normal" text-anchor="end" fill="#000" >14</text>
<rect x="94.19" y="1794.73" width="15.18" height="2.39" fill="#000"/>
<text transform="translate(143.40,1916.06) scale(1,1.03)" font-size="30" font-weight="normal" text-anchor="end" fill="#000" >15</text>
<rect x="94.19" y="1907.39" width="15.18" height="2.39" fill="#000"/>
<text transform="translate(439.60,2038.80) scale(1,1.0)" font-size="30.2" font-weight="bold" text-anchor="middle" fill="#000" >Averaging time, log(<tspan font-weight="normal" style="font-family:&quot;Liberation Serif&quot;,serif;font-style:normal">τ</tspan>) (s)</text>
<text transform="translate(82.8,1736.5) rotate(-90)" font-size="30" font-weight="bold" text-anchor="middle">Modified Allan Deviation (10<tspan font-size="21" dy="-10.3">-15</tspan><tspan dy="10.3">)</tspan></text>
<text transform="translate(213.70,1546.00) scale(1,1.03)" font-size="17.5" font-weight="normal" text-anchor="start" fill="#000" style="font-family:&quot;Liberation Serif&quot;,serif;font-style:normal">τ</text>
<rect x="227.8" y="1539.4" width="8.3" height="1.6" fill="#000"/><rect x="227.8" y="1543.0" width="8.3" height="1.6" fill="#000"/>
<text transform="translate(242.70,1546.00) scale(1,1.03)" font-size="17.5" font-weight="bold" text-anchor="start" fill="#000" >10031s</text>
<circle cx="349.40" cy="1671.40" r="6.4" fill="#000"/>
<text transform="translate(349.40,1659.80) scale(1,1.03)" font-size="20" font-weight="bold" text-anchor="middle" fill="#f00" >118.9</text>
<circle cx="403.40" cy="1702.10" r="6.4" fill="#000"/>
<text transform="translate(403.40,1690.50) scale(1,1.03)" font-size="20" font-weight="bold" text-anchor="middle" fill="#f00" >63.3</text>
<circle cx="457.50" cy="1741.60" r="6.4" fill="#000"/>
<text transform="translate(457.50,1730.00) scale(1,1.03)" font-size="20" font-weight="bold" text-anchor="middle" fill="#f00" >28.2</text>
<circle cx="511.70" cy="1773.80" r="6.4" fill="#000"/>
<text transform="translate(511.70,1762.20) scale(1,1.03)" font-size="20" font-weight="bold" text-anchor="middle" fill="#f00" >14.5</text>
<circle cx="566.10" cy="1816.00" r="6.4" fill="#000"/>
<text transform="translate(566.10,1804.40) scale(1,1.03)" font-size="20" font-weight="bold" text-anchor="middle" fill="#f00" >6.1</text>
<clipPath id="c3"><rect x="169.5" y="1511.5" width="540.1" height="450.0"/></clipPath><g clip-path="url(#c3)">
<circle cx="215.41" cy="1961.50" r="4.2" fill="#000"/>
<circle cx="269.61" cy="1961.50" r="4.2" fill="#000"/>
<circle cx="355.52" cy="1961.50" r="4.2" fill="#000"/>
<circle cx="409.72" cy="1961.50" r="4.2" fill="#000"/>
<circle cx="463.92" cy="1961.50" r="4.2" fill="#000"/>
<circle cx="518.12" cy="1961.50" r="4.2" fill="#000"/>
<circle cx="604.02" cy="1961.50" r="4.2" fill="#000"/>
<circle cx="670.28" cy="1961.50" r="4.2" fill="#000"/>
</g>
<text transform="translate(215.41,1950.00) scale(1,0.97)" font-size="20" font-weight="bold" text-anchor="middle" fill="#f00" >h/2</text>
<text transform="translate(269.61,1950.00) scale(1,0.97)" font-size="20" font-weight="bold" text-anchor="middle" fill="#f00" >h</text>
<text transform="translate(355.52,1950.00) scale(1,0.97)" font-size="20" font-weight="bold" text-anchor="middle" fill="#f00" >d/8</text>
<text transform="translate(409.72,1950.00) scale(1,0.97)" font-size="20" font-weight="bold" text-anchor="middle" fill="#f00" >d/4</text>
<text transform="translate(463.92,1950.00) scale(1,0.97)" font-size="20" font-weight="bold" text-anchor="middle" fill="#f00" >d/2</text>
<text transform="translate(518.12,1950.00) scale(1,0.97)" font-size="20" font-weight="bold" text-anchor="middle" fill="#f00" >day</text>
<text transform="translate(604.02,1950.00) scale(1,0.97)" font-size="20" font-weight="bold" text-anchor="middle" fill="#f00" >ddd</text>
<text transform="translate(670.28,1950.00) scale(1,0.97)" font-size="20" font-weight="bold" text-anchor="middle" fill="#f00" >wk</text>
<rect x="853.60" y="1511.50" width="539.80" height="450.00" fill="none" stroke="#000" stroke-width="1.1"/>
<line x1="894.60" y1="1511.80" x2="894.60" y2="1496.90" stroke="#000" stroke-width="2.0" stroke-linecap="butt"/>
<line x1="894.60" y1="1960.10" x2="894.60" y2="1975.00" stroke="#000" stroke-width="2.0" stroke-linecap="butt"/>
<line x1="1060.70" y1="1511.80" x2="1060.70" y2="1496.90" stroke="#000" stroke-width="2.0" stroke-linecap="butt"/>
<line x1="1060.70" y1="1960.10" x2="1060.70" y2="1975.00" stroke="#000" stroke-width="2.0" stroke-linecap="butt"/>
<line x1="1226.80" y1="1511.80" x2="1226.80" y2="1496.90" stroke="#000" stroke-width="2.0" stroke-linecap="butt"/>
<line x1="1226.80" y1="1960.10" x2="1226.80" y2="1975.00" stroke="#000" stroke-width="2.0" stroke-linecap="butt"/>
<line x1="1392.90" y1="1511.80" x2="1392.90" y2="1496.90" stroke="#000" stroke-width="2.0" stroke-linecap="butt"/>
<line x1="1392.90" y1="1960.10" x2="1392.90" y2="1975.00" stroke="#000" stroke-width="2.0" stroke-linecap="butt"/>
<line x1="977.65" y1="1511.80" x2="977.65" y2="1504.10" stroke="#000" stroke-width="2.0" stroke-linecap="butt"/>
<line x1="977.65" y1="1960.10" x2="977.65" y2="1968.00" stroke="#000" stroke-width="2.0" stroke-linecap="butt"/>
<line x1="1143.75" y1="1511.80" x2="1143.75" y2="1504.10" stroke="#000" stroke-width="2.0" stroke-linecap="butt"/>
<line x1="1143.75" y1="1960.10" x2="1143.75" y2="1968.00" stroke="#000" stroke-width="2.0" stroke-linecap="butt"/>
<line x1="1309.85" y1="1511.80" x2="1309.85" y2="1504.10" stroke="#000" stroke-width="2.0" stroke-linecap="butt"/>
<line x1="1309.85" y1="1960.10" x2="1309.85" y2="1968.00" stroke="#000" stroke-width="2.0" stroke-linecap="butt"/>
<text transform="translate(895.00,2007.80) scale(1,1.03)" font-size="30" font-weight="normal" text-anchor="middle" fill="#000" >3</text>
<text transform="translate(1061.10,2007.80) scale(1,1.03)" font-size="30" font-weight="normal" text-anchor="middle" fill="#000" >4</text>
<text transform="translate(1227.20,2007.80) scale(1,1.03)" font-size="30" font-weight="normal" text-anchor="middle" fill="#000" >5</text>
<text transform="translate(1393.30,2007.80) scale(1,1.03)" font-size="30" font-weight="normal" text-anchor="middle" fill="#000" >6</text>
<line x1="854.20" y1="1600.90" x2="840.10" y2="1600.90" stroke="#000" stroke-width="2.0" stroke-linecap="butt"/>
<line x1="1392.00" y1="1600.90" x2="1406.80" y2="1600.90" stroke="#000" stroke-width="2.0" stroke-linecap="butt"/>
<line x1="854.20" y1="1780.95" x2="840.10" y2="1780.95" stroke="#000" stroke-width="2.0" stroke-linecap="butt"/>
<line x1="1392.00" y1="1780.95" x2="1406.80" y2="1780.95" stroke="#000" stroke-width="2.0" stroke-linecap="butt"/>
<line x1="854.20" y1="1961.00" x2="840.10" y2="1961.00" stroke="#000" stroke-width="2.0" stroke-linecap="butt"/>
<line x1="1392.00" y1="1961.00" x2="1406.80" y2="1961.00" stroke="#000" stroke-width="2.0" stroke-linecap="butt"/>
<line x1="854.20" y1="1510.88" x2="846.30" y2="1510.88" stroke="#000" stroke-width="2.0" stroke-linecap="butt"/>
<line x1="1392.00" y1="1510.88" x2="1399.80" y2="1510.88" stroke="#000" stroke-width="2.0" stroke-linecap="butt"/>
<line x1="854.20" y1="1690.93" x2="846.30" y2="1690.93" stroke="#000" stroke-width="2.0" stroke-linecap="butt"/>
<line x1="1392.00" y1="1690.93" x2="1399.80" y2="1690.93" stroke="#000" stroke-width="2.0" stroke-linecap="butt"/>
<line x1="854.20" y1="1870.98" x2="846.30" y2="1870.98" stroke="#000" stroke-width="2.0" stroke-linecap="butt"/>
<line x1="1392.00" y1="1870.98" x2="1399.80" y2="1870.98" stroke="#000" stroke-width="2.0" stroke-linecap="butt"/>
<text transform="translate(827.10,1612.10) scale(1,1.03)" font-size="30" font-weight="normal" text-anchor="end" fill="#000" >8</text>
<rect x="794.57" y="1603.43" width="15.18" height="2.39" fill="#000"/>
<text transform="translate(827.10,1792.15) scale(1,1.03)" font-size="30" font-weight="normal" text-anchor="end" fill="#000" >9</text>
<rect x="794.57" y="1783.48" width="15.18" height="2.39" fill="#000"/>
<text transform="translate(827.10,1972.20) scale(1,1.03)" font-size="30" font-weight="normal" text-anchor="end" fill="#000" >10</text>
<rect x="777.89" y="1963.53" width="15.18" height="2.39" fill="#000"/>
<text transform="translate(1123.60,2038.80) scale(1,1.0)" font-size="30.2" font-weight="bold" text-anchor="middle" fill="#000" >Averaging time, log(<tspan font-weight="normal" style="font-family:&quot;Liberation Serif&quot;,serif;font-style:normal">τ</tspan>) (s)</text>
<text transform="translate(766.6,1736.5) rotate(-90)" font-size="30" font-weight="bold" text-anchor="middle">Time deviation (10<tspan font-size="21" dy="-10.3">-10</tspan><tspan dy="10.3"> s)</tspan></text>
<circle cx="1060.90" cy="1810.00" r="6.4" fill="#000"/>
<text transform="translate(1060.90,1791.80) scale(1,1.03)" font-size="17.5" font-weight="bold" text-anchor="middle" fill="#f00" >6.9</text>
<circle cx="1110.90" cy="1804.90" r="6.4" fill="#000"/>
<text transform="translate(1110.90,1786.70) scale(1,1.03)" font-size="17.5" font-weight="bold" text-anchor="middle" fill="#f00" >7.3</text>
<circle cx="1160.90" cy="1814.00" r="6.4" fill="#000"/>
<text transform="translate(1160.90,1795.80) scale(1,1.03)" font-size="17.5" font-weight="bold" text-anchor="middle" fill="#f00" >6.5</text>
<circle cx="1211.00" cy="1811.70" r="6.4" fill="#000"/>
<text transform="translate(1211.00,1793.50) scale(1,1.03)" font-size="17.5" font-weight="bold" text-anchor="middle" fill="#f00" >6.7</text>
<circle cx="1261.00" cy="1825.20" r="6.4" fill="#000"/>
<text transform="translate(1261.00,1807.00) scale(1,1.03)" font-size="17.5" font-weight="bold" text-anchor="middle" fill="#f00" >5.7</text>
<clipPath id="c4"><rect x="853.6" y="1511.5" width="539.8000000000001" height="450.0"/></clipPath><g clip-path="url(#c4)">
<circle cx="937.40" cy="1959.50" r="6.2" fill="#000"/>
<circle cx="987.40" cy="1959.50" r="6.2" fill="#000"/>
<circle cx="1066.65" cy="1959.50" r="6.2" fill="#000"/>
<circle cx="1116.65" cy="1959.50" r="6.2" fill="#000"/>
<circle cx="1166.65" cy="1959.50" r="6.2" fill="#000"/>
<circle cx="1216.65" cy="1959.50" r="6.2" fill="#000"/>
<circle cx="1295.90" cy="1959.50" r="6.2" fill="#000"/>
<circle cx="1357.03" cy="1959.50" r="6.2" fill="#000"/>
</g>
<text transform="translate(937.40,1942.90) scale(1,0.97)" font-size="20" font-weight="bold" text-anchor="middle" fill="#f00" >h/2</text>
<text transform="translate(987.40,1942.90) scale(1,0.97)" font-size="20" font-weight="bold" text-anchor="middle" fill="#f00" >h</text>
<text transform="translate(1066.65,1942.90) scale(1,0.97)" font-size="20" font-weight="bold" text-anchor="middle" fill="#f00" >d/8</text>
<text transform="translate(1116.65,1942.90) scale(1,0.97)" font-size="20" font-weight="bold" text-anchor="middle" fill="#f00" >d/4</text>
<text transform="translate(1166.65,1942.90) scale(1,0.97)" font-size="20" font-weight="bold" text-anchor="middle" fill="#f00" >d/2</text>
<text transform="translate(1216.65,1942.90) scale(1,0.97)" font-size="20" font-weight="bold" text-anchor="middle" fill="#f00" >day</text>
<text transform="translate(1295.90,1942.90) scale(1,0.97)" font-size="20" font-weight="bold" text-anchor="middle" fill="#f00" >ddd</text>
<text transform="translate(1357.03,1942.90) scale(1,0.97)" font-size="20" font-weight="bold" text-anchor="middle" fill="#f00" >wk</text>
</svg>
</body></html>
